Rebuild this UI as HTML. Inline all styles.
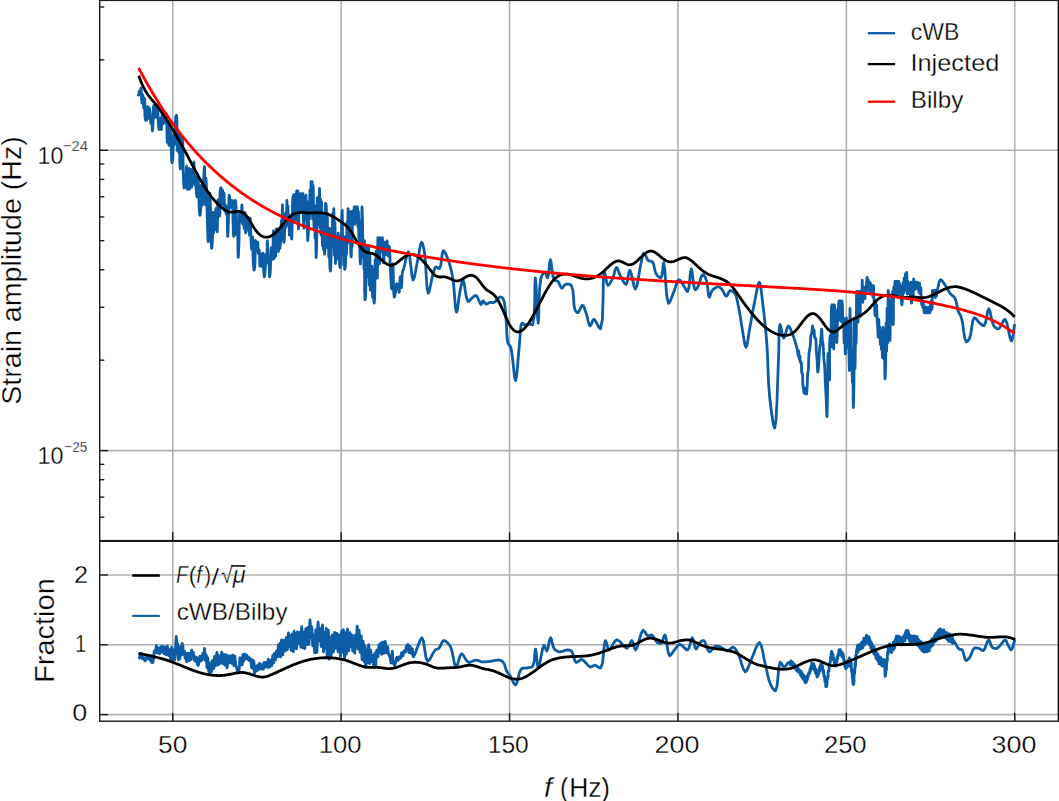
<!DOCTYPE html>
<html><head><meta charset="utf-8"><style>
html,body{margin:0;padding:0;background:#fff;}
body{width:1059px;height:801px;overflow:hidden;font-family:"Liberation Sans",sans-serif;}
svg{display:block;}
</style></head><body>
<svg width="1059" height="801" viewBox="0 0 1059 801"><rect width="1059" height="801" fill="#fff"/><defs><clipPath id="c1"><rect x="99.7" y="0.4" width="958.5999999999999" height="540.2"/></clipPath><clipPath id="c2"><rect x="99.7" y="541.3" width="958.5999999999999" height="179.9000000000001"/></clipPath></defs><g stroke="#b0b0b0" stroke-width="1.6"><line x1="172.75" y1="0.4" x2="172.75" y2="540.6"/><line x1="172.75" y1="541.3" x2="172.75" y2="721.2"/><line x1="341.15" y1="0.4" x2="341.15" y2="540.6"/><line x1="341.15" y1="541.3" x2="341.15" y2="721.2"/><line x1="509.55" y1="0.4" x2="509.55" y2="540.6"/><line x1="509.55" y1="541.3" x2="509.55" y2="721.2"/><line x1="677.95" y1="0.4" x2="677.95" y2="540.6"/><line x1="677.95" y1="541.3" x2="677.95" y2="721.2"/><line x1="846.35" y1="0.4" x2="846.35" y2="540.6"/><line x1="846.35" y1="541.3" x2="846.35" y2="721.2"/><line x1="1014.75" y1="0.4" x2="1014.75" y2="540.6"/><line x1="1014.75" y1="541.3" x2="1014.75" y2="721.2"/><line x1="99.7" y1="150.3" x2="1058.3" y2="150.3"/><line x1="99.7" y1="450.6" x2="1058.3" y2="450.6"/><line x1="99.7" y1="714.60" x2="1058.3" y2="714.60"/><line x1="99.7" y1="644.80" x2="1058.3" y2="644.80"/><line x1="99.7" y1="575.00" x2="1058.3" y2="575.00"/></g><g clip-path="url(#c1)" fill="none" stroke-width="2.8" stroke-linejoin="round" stroke-linecap="butt"><path d="M138.00,96.30 L138.38,95.25 L138.75,94.14 L139.01,92.88 L139.25,91.54 L139.50,90.91 L139.88,92.16 L140.25,93.40 L140.47,92.54 L140.66,90.69 L140.83,88.84 L141.00,88.00 L141.25,90.31 L141.46,95.36 L141.67,100.42 L141.92,102.73 L142.14,101.50 L142.38,98.78 L142.62,96.07 L142.84,94.84 L143.09,96.92 L143.31,101.48 L143.52,106.05 L143.76,108.12 L143.99,106.62 L144.23,103.32 L144.46,100.02 L144.68,98.52 L144.82,101.81 L144.82,109.11 L144.98,116.59 L145.60,120.40 L146.50,120.17 L147.01,117.58 L147.20,113.00 L147.26,108.65 L147.40,106.71 L147.62,108.52 L147.84,112.52 L148.07,116.52 L148.30,118.34 L148.51,116.68 L148.72,113.02 L148.94,109.37 L149.20,107.70 L149.42,108.22 L149.65,109.53 L149.89,111.23 L150.10,112.90 L150.33,115.72 L150.51,119.13 L150.68,122.02 L150.87,123.23 L151.06,122.08 L151.26,119.55 L151.45,117.01 L151.63,115.86 L151.85,118.23 L152.03,123.43 L152.20,128.63 L152.40,131.00 L152.58,130.08 L152.77,127.79 L152.96,124.86 L153.13,121.99 L153.23,117.53 L153.23,112.24 L153.37,107.65 L153.87,105.30 L154.60,105.30 L155.04,107.50 L155.21,111.58 L155.26,115.50 L155.38,117.26 L155.57,115.40 L155.76,111.32 L155.95,107.23 L156.15,105.37 L156.34,107.01 L156.53,110.62 L156.73,114.22 L156.92,115.86 L157.12,114.45 L157.32,111.33 L157.52,108.21 L157.70,106.80 L157.89,109.22 L158.02,114.84 L158.18,121.18 L158.45,125.78 L158.69,127.51 L158.95,128.92 L159.20,129.50 L159.40,128.95 L159.58,127.60 L159.76,125.92 L159.93,124.36 L160.13,122.55 L160.31,120.50 L160.50,118.81 L160.67,118.12 L160.87,119.90 L161.06,123.81 L161.23,127.72 L161.40,129.50 L161.60,126.67 L161.79,120.45 L161.98,114.23 L162.20,111.40 L162.41,113.36 L162.63,117.66 L162.86,121.97 L163.10,123.93 L163.32,122.38 L163.54,118.97 L163.77,115.56 L164.00,114.00 L164.22,115.31 L164.45,118.19 L164.68,121.07 L164.90,122.38 L165.13,120.88 L165.35,117.58 L165.57,114.29 L165.80,112.79 L166.03,113.53 L166.27,115.39 L166.50,117.86 L166.70,120.40 L166.90,126.08 L166.99,133.32 L167.12,139.56 L167.45,142.25 L167.82,141.13 L168.20,140.00 L168.43,140.86 L168.63,142.72 L168.80,144.57 L168.97,145.40 L169.21,142.09 L169.38,134.81 L169.53,127.55 L169.73,124.24 L169.91,125.08 L170.11,127.17 L170.32,129.86 L170.50,132.50 L170.71,136.08 L170.90,140.05 L171.07,144.16 L171.25,148.15 L171.42,152.50 L171.57,157.27 L171.75,161.11 L172.00,162.70 L172.18,162.33 L172.38,161.37 L172.59,160.04 L172.77,158.57 L173.05,152.91 L173.21,144.99 L173.34,137.93 L173.53,134.88 L173.70,136.40 L173.89,139.74 L174.09,143.08 L174.30,144.60 L174.48,144.10 L174.67,142.80 L174.86,141.04 L175.03,139.17 L175.23,134.14 L175.31,127.58 L175.43,121.30 L175.77,117.10 L176.13,115.69 L176.50,115.10 L176.93,120.70 L177.08,132.88 L177.12,145.04 L177.25,150.56 L177.43,147.74 L177.61,141.53 L177.81,135.32 L178.00,132.50 L178.19,135.60 L178.38,142.43 L178.57,149.25 L178.77,152.35 L178.96,149.76 L179.16,144.05 L179.35,138.34 L179.53,135.74 L179.65,140.88 L179.68,152.20 L179.82,163.55 L180.30,168.80 L181.07,167.22 L181.49,160.98 L181.58,150.85 L181.61,141.41 L181.83,137.23 L182.01,137.60 L182.22,138.60 L182.42,140.01 L182.60,141.60 L182.90,148.07 L183.03,157.20 L183.12,166.83 L183.30,174.80 L183.49,179.13 L183.70,183.40 L183.93,186.67 L184.15,187.97 L184.36,185.94 L184.57,181.48 L184.79,177.03 L185.00,175.00 L185.19,176.43 L185.38,179.59 L185.56,182.74 L185.73,184.17 L185.94,181.36 L186.13,175.19 L186.30,169.02 L186.47,166.22 L186.52,169.64 L186.48,177.27 L186.61,185.11 L187.20,189.20 L187.96,189.20 L188.53,185.47 L188.68,178.34 L188.66,171.42 L188.72,168.31 L188.91,171.57 L189.10,178.75 L189.29,185.94 L189.48,189.20 L189.66,186.06 L189.84,179.14 L190.03,172.23 L190.24,169.08 L190.41,170.26 L190.60,173.09 L190.80,176.52 L191.00,179.50 L191.19,181.86 L191.38,184.36 L191.57,186.35 L191.75,187.16 L191.96,184.39 L192.13,178.31 L192.30,172.23 L192.50,169.46 L192.68,170.91 L192.87,174.10 L193.07,177.29 L193.25,178.74 L193.46,176.16 L193.65,170.47 L193.83,164.78 L194.00,162.20 L194.18,165.69 L194.34,173.38 L194.51,181.07 L194.73,184.57 L194.90,183.25 L195.10,180.35 L195.29,177.44 L195.47,176.12 L195.66,177.75 L195.82,181.63 L195.99,186.22 L196.20,190.00 L196.38,192.20 L196.58,194.42 L196.79,196.14 L196.97,196.82 L197.18,193.90 L197.34,187.49 L197.50,181.07 L197.73,178.15 L197.91,178.69 L198.12,180.09 L198.32,181.98 L198.50,184.00 L198.74,189.24 L198.89,196.01 L199.03,202.84 L199.25,208.28 L199.42,210.69 L199.61,213.00 L199.81,214.72 L200.00,215.40 L200.19,214.78 L200.38,213.19 L200.57,211.07 L200.73,208.83 L200.98,202.81 L201.15,194.90 L201.30,188.00 L201.47,185.06 L201.61,188.16 L201.73,195.01 L201.90,201.86 L202.20,205.00 L202.45,204.53 L202.72,203.34 L202.97,201.80 L203.28,196.98 L203.44,190.15 L203.55,182.93 L203.73,176.93 L203.92,173.58 L204.12,170.25 L204.32,167.71 L204.50,166.70 L204.75,172.63 L204.92,185.67 L205.06,198.70 L205.23,204.63 L205.40,200.49 L205.58,191.39 L205.77,182.28 L205.97,178.14 L206.14,180.00 L206.33,184.58 L206.52,190.41 L206.70,196.00 L206.90,202.81 L207.07,210.26 L207.25,217.68 L207.45,224.44 L207.62,229.84 L207.80,235.43 L207.99,239.82 L208.20,241.60 L208.39,240.63 L208.59,238.14 L208.79,234.80 L208.97,231.28 L209.21,221.67 L209.38,209.01 L209.53,197.98 L209.73,193.26 L209.92,194.89 L210.12,198.96 L210.32,204.21 L210.50,209.40 L210.67,217.35 L210.77,226.57 L210.89,235.36 L211.10,242.01 L211.23,244.26 L211.38,246.31 L211.54,247.82 L211.70,248.40 L211.86,247.86 L212.02,246.46 L212.18,244.55 L212.32,242.46 L212.55,235.14 L212.70,225.07 L212.81,216.15 L212.95,212.31 L213.08,215.53 L213.21,222.63 L213.36,229.74 L213.57,232.97 L213.70,232.11 L213.83,230.20 L213.99,228.29 L214.20,227.40 L214.58,228.58 L214.97,229.75 L215.24,226.95 L215.30,220.68 L215.39,213.89 L215.73,209.53 L216.50,208.00 L216.92,211.81 L217.08,220.00 L217.14,228.17 L217.23,231.87 L217.42,226.87 L217.58,215.87 L217.76,204.86 L217.97,199.86 L218.06,202.01 L218.12,206.89 L218.29,212.14 L218.70,215.40 L219.47,216.29 L219.93,212.59 L219.98,204.52 L219.96,195.76 L220.23,190.02 L220.62,188.39 L221.00,187.70 L221.31,190.37 L221.49,196.16 L221.60,201.93 L221.75,204.56 L221.93,202.30 L222.11,197.34 L222.30,192.37 L222.50,190.11 L222.68,191.87 L222.86,195.72 L223.05,199.58 L223.25,201.33 L223.44,200.03 L223.63,197.17 L223.83,194.30 L224.00,193.00 L224.19,195.77 L224.34,201.85 L224.49,207.93 L224.70,210.70 L224.86,209.82 L225.04,207.85 L225.23,205.89 L225.40,205.00 L225.60,206.46 L225.79,209.67 L225.97,212.88 L226.17,214.33 L226.36,213.22 L226.56,210.76 L226.76,208.29 L226.93,207.18 L227.19,211.75 L227.36,221.80 L227.51,231.84 L227.70,236.40 L227.88,234.65 L228.08,230.34 L228.28,224.89 L228.47,219.71 L228.65,212.77 L228.80,204.70 L228.98,198.02 L229.23,195.22 L229.41,195.97 L229.60,197.80 L229.80,200.03 L230.00,202.00 L230.18,203.73 L230.37,205.60 L230.55,207.10 L230.73,207.71 L230.87,206.65 L230.96,204.27 L231.12,201.79 L231.47,200.40 L232.20,200.40 L232.73,202.90 L232.88,207.86 L232.88,213.77 L232.95,219.13 L233.11,224.30 L233.26,229.96 L233.44,234.52 L233.70,236.40 L233.88,236.00 L234.08,234.94 L234.29,233.45 L234.47,231.78 L234.74,224.44 L234.85,213.94 L234.96,204.51 L235.23,200.40 L235.41,200.80 L235.62,201.86 L235.82,203.35 L236.00,205.00 L236.30,212.05 L236.45,222.08 L236.56,231.05 L236.73,234.95 L236.91,232.76 L237.10,227.96 L237.29,223.15 L237.47,220.97 L237.68,226.66 L237.84,239.18 L237.99,251.71 L238.20,257.40 L238.37,255.94 L238.57,252.28 L238.76,247.54 L238.93,242.83 L239.12,234.38 L239.25,224.04 L239.41,215.28 L239.67,211.58 L239.82,212.38 L239.99,214.29 L240.18,216.54 L240.40,218.40 L240.65,219.87 L240.91,221.21 L241.15,221.79 L241.43,219.15 L241.61,213.38 L241.74,207.62 L241.90,205.00 L242.09,207.97 L242.26,214.50 L242.45,221.03 L242.65,224.00 L242.83,222.19 L243.02,218.20 L243.22,214.21 L243.40,212.40 L243.60,214.89 L243.78,220.37 L243.97,225.85 L244.15,228.34 L244.34,225.85 L244.53,220.37 L244.72,214.89 L244.90,212.40 L245.07,215.60 L245.22,222.64 L245.40,229.68 L245.65,232.89 L245.81,232.04 L245.99,230.16 L246.18,228.27 L246.40,227.40 L246.79,228.74 L247.17,230.07 L247.42,228.04 L247.56,223.60 L247.69,219.17 L247.93,217.14 L248.32,218.06 L248.70,220.00 L248.99,223.63 L249.17,228.65 L249.31,233.11 L249.47,235.03 L249.66,232.41 L249.86,226.63 L250.05,220.85 L250.23,218.23 L250.42,220.73 L250.60,226.66 L250.78,233.66 L251.00,239.40 L251.18,242.65 L251.37,245.92 L251.56,248.44 L251.75,249.45 L251.95,247.49 L252.14,243.16 L252.33,238.83 L252.50,236.87 L252.70,239.90 L252.85,247.03 L253.02,255.29 L253.25,261.74 L253.41,264.53 L253.57,267.23 L253.77,269.28 L254.00,270.10 L254.24,269.67 L254.50,268.57 L254.73,267.13 L255.04,261.06 L255.15,252.05 L255.24,243.87 L255.47,240.29 L255.63,240.83 L255.82,242.18 L256.01,243.86 L256.20,245.40 L256.39,247.12 L256.59,249.06 L256.77,250.64 L256.95,251.29 L257.15,249.87 L257.34,246.74 L257.52,243.62 L257.70,242.20 L257.88,243.99 L258.04,247.94 L258.22,251.89 L258.45,253.70 L258.69,252.71 L258.96,250.88 L259.20,249.90 L259.46,252.45 L259.63,258.04 L259.77,263.62 L259.93,266.15 L260.11,264.28 L260.28,260.15 L260.47,256.01 L260.67,254.13 L260.83,255.03 L261.01,257.17 L261.19,259.74 L261.40,261.90 L261.58,263.35 L261.78,264.85 L261.97,266.02 L262.15,266.48 L262.39,264.40 L262.57,259.84 L262.73,255.28 L262.90,253.21 L263.08,255.27 L263.25,260.13 L263.43,265.81 L263.65,270.32 L263.82,272.49 L264.01,274.63 L264.20,276.25 L264.40,276.90 L264.59,276.35 L264.79,274.94 L264.98,273.09 L265.15,271.17 L265.38,266.75 L265.55,261.09 L265.71,256.22 L265.90,254.14 L266.08,255.56 L266.28,258.69 L266.47,261.81 L266.65,263.23 L266.87,259.74 L267.06,252.06 L267.23,244.39 L267.40,240.90 L267.56,244.31 L267.71,251.81 L267.89,259.31 L268.13,262.73 L268.31,261.79 L268.50,259.70 L268.69,257.61 L268.87,256.66 L269.08,259.83 L269.23,266.78 L269.38,273.73 L269.60,276.90 L269.78,276.33 L269.98,274.86 L270.19,272.88 L270.37,270.79 L270.59,264.97 L270.71,257.28 L270.85,250.55 L271.13,247.65 L271.38,248.29 L271.65,249.76 L271.90,251.40 L272.12,253.54 L272.32,256.17 L272.49,258.39 L272.65,259.32 L272.90,254.89 L273.08,245.15 L273.23,235.41 L273.40,230.98 L273.58,235.28 L273.75,244.74 L273.94,254.20 L274.15,258.50 L274.32,256.22 L274.51,251.20 L274.71,246.18 L274.90,243.90 L275.08,245.83 L275.28,250.08 L275.46,254.33 L275.63,256.26 L275.70,252.16 L275.62,243.06 L275.74,233.72 L276.37,228.90 L277.10,228.90 L277.64,232.89 L277.71,240.54 L277.58,247.98 L277.56,251.33 L277.67,248.50 L277.79,242.27 L277.90,236.04 L278.02,233.21 L278.13,236.05 L278.25,242.30 L278.36,248.56 L278.48,251.40 L278.59,249.02 L278.70,243.79 L278.82,238.56 L278.94,236.18 L278.97,238.00 L278.96,242.03 L279.05,246.20 L279.40,248.40 L279.90,248.40 L280.35,244.90 L280.43,238.08 L280.37,231.43 L280.40,228.44 L280.52,230.53 L280.65,235.13 L280.78,239.72 L280.90,241.81 L281.03,238.52 L281.15,231.28 L281.27,224.04 L281.40,220.75 L281.52,223.31 L281.65,228.95 L281.78,234.58 L281.90,237.15 L282.04,232.12 L282.16,221.07 L282.27,210.02 L282.40,205.00 L282.51,208.74 L282.62,216.96 L282.75,225.18 L282.90,228.91 L283.02,227.53 L283.15,224.48 L283.28,221.44 L283.40,220.05 L283.53,223.54 L283.61,231.22 L283.72,238.90 L283.90,242.40 L284.02,242.04 L284.15,241.10 L284.28,239.80 L284.40,238.35 L284.59,232.53 L284.70,224.33 L284.79,217.01 L284.90,213.84 L285.02,216.07 L285.14,220.97 L285.27,225.88 L285.40,228.11 L285.53,225.69 L285.65,220.37 L285.77,215.04 L285.90,212.63 L286.02,214.66 L286.15,219.15 L286.28,223.63 L286.40,225.67 L286.54,221.72 L286.66,213.03 L286.78,204.35 L286.90,200.40 L287.02,203.81 L287.14,211.32 L287.27,218.83 L287.40,222.24 L287.52,219.72 L287.65,214.17 L287.78,208.63 L287.90,206.11 L288.02,209.15 L288.14,215.84 L288.26,222.52 L288.40,225.56 L288.52,223.84 L288.65,220.04 L288.78,216.24 L288.90,214.51 L289.03,217.75 L289.15,224.86 L289.26,231.97 L289.40,235.20 L289.50,233.51 L289.61,229.81 L289.73,226.10 L289.90,224.40 L290.13,225.61 L290.35,226.82 L290.51,225.19 L290.62,221.61 L290.71,218.03 L290.80,216.40 L290.91,218.08 L291.02,222.07 L291.13,226.83 L291.25,230.83 L291.36,233.42 L291.47,236.08 L291.59,238.16 L291.70,239.00 L291.85,237.04 L291.99,232.24 L292.13,226.24 L292.27,220.66 L292.38,214.68 L292.46,208.17 L292.59,202.26 L292.83,198.07 L293.12,196.10 L293.40,195.20 L293.65,199.06 L293.78,207.53 L293.85,215.98 L293.95,219.82 L294.09,215.85 L294.22,207.12 L294.36,198.39 L294.50,194.42 L294.63,197.59 L294.77,204.57 L294.91,211.54 L295.05,214.71 L295.18,212.31 L295.33,207.02 L295.47,201.73 L295.60,199.33 L295.75,202.53 L295.89,209.59 L296.02,216.64 L296.15,219.84 L296.29,215.34 L296.43,205.42 L296.56,195.51 L296.70,191.00 L296.84,194.52 L296.98,202.27 L297.12,210.02 L297.27,213.54 L297.41,210.02 L297.56,202.27 L297.70,194.52 L297.83,191.00 L297.98,196.92 L298.11,209.95 L298.24,222.98 L298.40,228.90 L298.52,227.21 L298.65,223.11 L298.79,218.02 L298.92,213.37 L299.05,208.48 L299.18,203.03 L299.31,198.60 L299.44,196.77 L299.57,199.24 L299.70,204.66 L299.83,210.08 L299.96,212.55 L300.00,209.82 L299.97,203.71 L300.07,197.33 L300.48,193.80 L301.00,193.50 L301.34,195.56 L301.44,199.73 L301.44,203.83 L301.50,205.68 L301.63,203.96 L301.75,200.16 L301.88,196.36 L302.00,194.64 L302.14,197.44 L302.26,203.62 L302.38,209.80 L302.50,212.61 L302.63,209.63 L302.76,203.08 L302.88,196.53 L303.00,193.55 L303.12,196.88 L303.22,204.68 L303.34,213.65 L303.50,220.50 L303.62,223.11 L303.75,225.60 L303.88,227.46 L304.00,228.19 L304.14,225.48 L304.25,219.50 L304.36,213.53 L304.50,210.81 L304.62,211.95 L304.75,214.47 L304.88,216.98 L305.00,218.12 L305.14,216.11 L305.24,211.37 L305.35,205.84 L305.50,201.45 L305.62,199.38 L305.75,197.35 L305.88,195.81 L306.00,195.20 L306.18,199.02 L306.31,207.43 L306.43,215.83 L306.57,219.65 L306.71,216.82 L306.85,210.61 L307.00,204.40 L307.13,201.57 L307.27,207.69 L307.36,221.13 L307.48,234.58 L307.70,240.70 L307.83,240.11 L307.98,238.60 L308.13,236.53 L308.27,234.29 L308.47,226.84 L308.59,216.68 L308.69,207.71 L308.83,203.85 L308.97,206.23 L309.12,211.48 L309.26,216.73 L309.40,219.12 L309.56,214.58 L309.69,204.59 L309.82,194.61 L309.97,190.07 L310.10,193.16 L310.25,199.96 L310.40,206.76 L310.53,209.85 L310.69,205.46 L310.83,195.78 L310.97,186.10 L311.10,181.70 L311.23,186.36 L311.36,196.60 L311.48,206.85 L311.60,211.51 L311.73,206.85 L311.85,196.60 L311.98,186.36 L312.10,181.70 L312.23,187.53 L312.35,200.35 L312.47,213.18 L312.60,219.01 L312.72,213.75 L312.84,202.20 L312.97,190.64 L313.10,185.39 L313.22,187.96 L313.34,194.21 L313.47,201.87 L313.60,208.70 L313.72,215.00 L313.85,221.87 L313.97,227.39 L314.10,229.65 L314.23,226.34 L314.35,219.06 L314.48,211.78 L314.60,208.47 L314.73,213.12 L314.86,223.34 L314.98,233.56 L315.10,238.20 L315.23,233.19 L315.36,222.17 L315.48,211.15 L315.60,206.14 L315.72,214.18 L315.81,231.87 L315.92,249.56 L316.10,257.60 L316.23,256.33 L316.38,253.11 L316.53,248.80 L316.67,244.28 L316.85,232.49 L316.98,217.07 L317.09,203.67 L317.23,197.94 L317.37,201.89 L317.51,210.56 L317.66,219.24 L317.80,223.18 L317.94,219.10 L318.08,210.11 L318.23,201.13 L318.37,197.04 L318.51,201.37 L318.66,210.88 L318.80,220.40 L318.93,224.72 L319.08,219.06 L319.23,206.61 L319.37,194.16 L319.50,188.50 L319.63,194.66 L319.75,208.23 L319.87,221.79 L320.00,227.95 L320.12,223.44 L320.25,213.52 L320.38,203.59 L320.50,199.08 L320.63,204.70 L320.75,217.05 L320.88,229.39 L321.00,235.01 L321.12,229.79 L321.24,218.30 L321.37,206.82 L321.50,201.60 L321.62,204.26 L321.74,210.69 L321.87,218.55 L322.00,225.50 L322.12,231.59 L322.25,238.16 L322.38,243.43 L322.50,245.58 L322.63,240.98 L322.76,230.86 L322.88,220.74 L323.00,216.14 L323.13,221.34 L323.25,232.79 L323.37,244.24 L323.50,249.45 L323.62,244.85 L323.75,234.74 L323.88,224.63 L324.00,220.03 L324.11,225.37 L324.20,237.11 L324.32,248.86 L324.50,254.20 L324.63,253.41 L324.78,251.39 L324.93,248.62 L325.07,245.61 L325.20,235.30 L325.21,221.18 L325.29,208.68 L325.63,203.26 L325.92,203.85 L326.20,205.30 L326.54,213.00 L326.64,225.42 L326.66,236.95 L326.72,242.04 L326.85,237.49 L326.99,227.48 L327.12,217.46 L327.25,212.91 L327.38,218.44 L327.50,230.59 L327.62,242.74 L327.77,248.27 L327.90,245.77 L328.03,240.28 L328.17,234.79 L328.30,232.30 L328.44,236.21 L328.57,244.81 L328.70,253.41 L328.83,257.32 L328.96,252.78 L329.09,242.80 L329.22,232.82 L329.35,228.28 L329.45,233.46 L329.51,245.32 L329.63,258.35 L329.88,267.04 L330.04,268.96 L330.23,270.42 L330.40,271.00 L330.57,270.12 L330.71,267.91 L330.84,264.94 L330.97,261.81 L331.15,253.44 L331.28,242.45 L331.39,232.87 L331.53,228.78 L331.67,231.66 L331.82,237.99 L331.96,244.33 L332.10,247.20 L332.25,241.95 L332.38,230.39 L332.52,218.83 L332.67,213.57 L332.80,216.56 L332.95,223.14 L333.09,229.73 L333.23,232.72 L333.38,228.97 L333.53,220.71 L333.67,212.45 L333.80,208.70 L333.96,215.96 L334.09,231.92 L334.22,247.88 L334.37,255.13 L334.50,250.01 L334.65,238.74 L334.79,227.48 L334.93,222.36 L335.08,228.78 L335.21,242.92 L335.35,257.06 L335.50,263.49 L335.63,259.77 L335.77,251.60 L335.92,243.42 L336.07,239.71 L336.20,242.67 L336.32,249.19 L336.46,255.72 L336.63,258.68 L336.77,257.45 L336.91,254.74 L337.06,252.03 L337.20,250.80 L337.33,252.11 L337.47,255.00 L337.59,257.89 L337.70,259.20 L337.86,255.11 L337.98,246.14 L338.08,237.17 L338.20,233.09 L338.32,236.39 L338.44,243.66 L338.57,250.93 L338.70,254.23 L338.82,251.44 L338.95,245.30 L339.08,239.16 L339.20,236.37 L339.28,240.48 L339.30,249.78 L339.40,259.79 L339.70,266.00 L340.20,267.63 L340.49,263.17 L340.59,253.42 L340.62,243.68 L340.70,239.26 L340.82,241.59 L340.95,246.71 L341.08,251.84 L341.20,254.17 L341.33,250.17 L341.44,240.77 L341.55,229.86 L341.70,221.36 L341.82,217.69 L341.95,214.14 L342.08,211.46 L342.20,210.40 L342.36,216.92 L342.47,231.26 L342.58,245.61 L342.72,252.13 L342.84,249.67 L342.98,244.27 L343.11,238.86 L343.24,236.41 L343.38,240.90 L343.51,250.78 L343.63,260.66 L343.76,265.15 L343.89,261.61 L344.02,253.81 L344.15,246.01 L344.28,242.47 L344.37,246.67 L344.43,255.92 L344.54,265.17 L344.80,269.40 L345.07,268.61 L345.35,266.79 L345.62,260.14 L345.74,249.94 L345.80,240.60 L345.90,236.51 L346.03,239.33 L346.18,245.54 L346.32,251.74 L346.45,254.56 L346.60,249.47 L346.73,238.27 L346.86,227.07 L347.00,221.98 L347.13,225.35 L347.28,232.75 L347.42,240.15 L347.55,243.52 L347.70,238.08 L347.83,226.11 L347.96,214.14 L348.10,208.70 L348.22,212.08 L348.35,219.51 L348.48,226.94 L348.62,230.32 L348.75,227.64 L348.88,221.76 L349.02,215.88 L349.14,213.21 L349.28,217.35 L349.41,226.47 L349.53,235.59 L349.66,239.73 L349.79,235.35 L349.93,225.69 L350.06,216.04 L350.18,211.65 L350.29,216.73 L350.38,228.47 L350.50,241.58 L350.70,250.80 L350.82,252.96 L350.95,254.90 L351.08,256.30 L351.20,256.83 L351.38,252.32 L351.49,242.40 L351.58,232.48 L351.70,227.98 L351.82,230.88 L351.95,237.28 L352.08,243.68 L352.20,246.59 L352.32,241.02 L352.40,228.76 L352.51,216.51 L352.70,210.93 L352.81,211.65 L352.92,213.36 L353.05,215.40 L353.20,217.10 L353.37,218.58 L353.56,219.94 L353.72,220.54 L353.91,218.42 L354.03,213.76 L354.14,209.11 L354.25,207.00 L354.39,209.70 L354.52,215.65 L354.65,221.60 L354.77,224.31 L354.90,221.60 L355.03,215.65 L355.16,209.70 L355.30,207.00 L355.43,209.11 L355.56,213.74 L355.69,218.37 L355.82,220.48 L355.96,218.37 L356.09,213.74 L356.22,209.11 L356.35,207.00 L356.48,209.24 L356.61,214.17 L356.74,219.11 L356.88,221.35 L357.01,219.11 L357.14,214.17 L357.28,209.24 L357.40,207.00 L357.53,210.12 L357.65,216.99 L357.77,223.86 L357.90,226.98 L358.02,224.55 L358.15,219.22 L358.28,213.89 L358.40,211.47 L358.54,215.80 L358.65,225.34 L358.77,234.88 L358.90,239.21 L359.02,236.33 L359.15,229.98 L359.28,223.64 L359.40,220.75 L359.52,225.18 L359.61,235.49 L359.72,247.22 L359.90,255.90 L360.02,258.68 L360.16,261.26 L360.30,263.17 L360.42,263.91 L360.61,257.86 L360.73,244.56 L360.83,231.26 L360.94,225.21 L361.07,229.98 L361.20,240.47 L361.34,250.96 L361.46,255.72 L361.59,248.11 L361.70,231.36 L361.82,214.61 L361.98,207.00 L362.10,208.61 L362.24,212.62 L362.38,217.82 L362.50,223.00 L362.64,232.29 L362.75,243.67 L362.87,253.30 L363.00,257.36 L363.12,254.69 L363.25,248.81 L363.38,242.93 L363.50,240.26 L363.64,244.76 L363.76,254.66 L363.88,264.56 L364.00,269.06 L364.13,264.67 L364.26,255.02 L364.38,245.37 L364.50,240.99 L364.57,250.15 L364.57,270.32 L364.66,290.50 L365.00,299.70 L365.25,298.98 L365.50,297.26 L365.79,288.66 L365.88,274.93 L365.91,262.20 L366.00,256.59 L366.12,259.48 L366.25,265.83 L366.38,272.18 L366.50,275.06 L366.60,270.76 L366.67,261.28 L366.78,251.79 L367.00,247.47 L367.16,247.96 L367.34,249.20 L367.50,250.80 L367.73,256.81 L367.86,265.57 L367.96,273.47 L368.07,276.91 L368.21,272.02 L368.36,261.28 L368.50,250.53 L368.63,245.64 L368.78,251.78 L368.92,265.28 L369.05,278.78 L369.20,284.91 L369.34,280.17 L369.48,269.75 L369.63,259.33 L369.77,254.59 L369.90,260.14 L370.03,272.35 L370.16,284.56 L370.33,290.11 L370.46,287.92 L370.61,283.11 L370.75,278.29 L370.90,276.10 L371.04,278.09 L371.18,282.45 L371.32,286.82 L371.45,288.81 L371.60,285.26 L371.74,277.46 L371.87,269.66 L372.00,266.11 L372.14,270.98 L372.28,281.69 L372.41,292.40 L372.55,297.27 L372.69,292.91 L372.82,283.34 L372.96,273.76 L373.10,269.41 L373.21,273.12 L373.31,281.71 L373.43,291.35 L373.65,298.21 L373.78,299.95 L373.92,301.53 L374.07,302.66 L374.20,303.10 L374.35,302.29 L374.49,300.22 L374.61,297.44 L374.72,294.47 L374.89,285.81 L375.01,274.26 L375.11,264.16 L375.24,259.83 L375.36,262.75 L375.50,269.18 L375.63,275.61 L375.76,278.54 L375.86,274.22 L375.94,264.74 L376.05,255.25 L376.28,250.92 L376.45,251.41 L376.63,252.63 L376.80,254.20 L377.02,259.76 L377.15,267.80 L377.24,275.04 L377.33,278.18 L377.48,271.83 L377.60,257.89 L377.73,243.94 L377.87,237.60 L377.99,241.43 L378.13,249.86 L378.26,258.30 L378.40,262.13 L378.53,258.38 L378.67,250.12 L378.80,241.87 L378.93,238.12 L379.07,242.14 L379.20,250.98 L379.33,259.82 L379.47,263.84 L379.57,259.74 L379.65,250.73 L379.78,241.71 L380.00,237.60 L380.25,239.81 L380.56,244.69 L380.88,249.58 L381.20,251.79 L381.51,249.58 L381.82,244.70 L382.12,239.82 L382.40,237.60 L382.73,241.52 L383.02,250.12 L383.30,258.73 L383.60,262.64 L383.89,259.46 L384.18,252.47 L384.48,245.48 L384.80,242.30 L385.07,244.23 L385.35,248.47 L385.64,252.72 L385.92,254.65 L386.21,252.51 L386.49,247.81 L386.76,243.11 L387.04,240.97 L387.32,243.31 L387.58,248.44 L387.86,253.59 L388.16,255.93 L388.43,254.43 L388.73,251.13 L389.02,247.84 L389.28,246.34 L389.60,248.83 L389.87,254.85 L390.12,262.22 L390.40,268.80 L390.71,274.86 L391.03,281.47 L391.35,286.78 L391.67,288.96 L392.00,285.03 L392.32,276.38 L392.63,267.73 L392.93,263.81 L393.19,268.99 L393.38,280.41 L393.67,291.85 L394.20,297.10 L394.49,296.67 L394.83,295.57 L395.16,294.12 L395.47,292.69 L395.79,290.25 L396.04,287.28 L396.33,284.75 L396.73,283.62 L397.37,284.32 L398.00,285.80 L398.37,287.48 L398.66,289.65 L398.90,291.52 L399.14,292.32 L399.47,289.85 L399.74,284.43 L400.00,279.02 L400.28,276.56 L400.56,278.28 L400.85,282.07 L401.14,285.86 L401.42,287.59 L401.67,285.47 L401.86,280.61 L402.12,275.17 L402.56,271.35 L403.08,270.07 L403.70,268.80 L404.71,264.81 L405.94,259.09 L407.23,253.98 L408.40,251.80 L409.66,256.24 L410.79,265.92 L411.90,275.59 L413.10,280.00 L414.25,277.71 L415.45,272.13 L416.65,265.31 L417.80,259.30 L418.78,254.14 L419.73,248.59 L420.67,244.14 L421.60,242.30 L422.32,243.16 L423.04,245.41 L423.74,248.48 L424.40,251.80 L425.45,262.02 L426.24,275.83 L427.05,288.01 L428.20,293.30 L429.26,291.07 L430.46,285.70 L431.70,279.41 L432.90,274.40 L433.57,272.00 L434.19,269.71 L434.89,267.89 L435.80,266.90 L436.66,267.05 L437.64,267.74 L438.63,268.41 L439.50,268.50 L440.77,265.30 L441.55,259.33 L442.27,253.52 L443.30,250.80 L444.39,251.55 L445.62,253.67 L446.86,256.47 L448.00,259.30 L449.39,263.32 L450.64,267.88 L451.77,272.88 L452.80,278.20 L453.91,287.57 L454.78,298.80 L455.57,308.22 L456.50,312.20 L457.39,309.50 L458.32,303.07 L459.29,295.54 L460.30,289.50 L460.97,286.40 L461.66,283.35 L462.37,281.01 L463.10,280.10 L464.16,283.34 L465.22,290.47 L466.45,297.75 L468.00,301.40 L468.92,301.17 L469.92,300.23 L470.96,299.01 L472.00,298.00 L473.00,297.14 L474.02,296.22 L475.03,295.54 L476.00,295.40 L477.37,297.00 L478.70,300.07 L479.93,303.05 L481.00,304.40 L481.70,303.55 L482.30,301.93 L483.00,301.00 L483.66,301.39 L484.38,302.37 L485.16,303.42 L486.00,304.00 L486.93,303.89 L487.93,303.39 L488.97,302.79 L490.00,302.40 L490.99,302.37 L491.98,302.50 L492.98,302.59 L494.00,302.40 L495.51,301.28 L497.08,299.52 L498.60,297.85 L500.00,297.00 L501.09,297.04 L502.10,297.50 L503.00,298.40 L504.26,301.84 L505.04,307.21 L505.57,313.40 L506.10,319.30 L506.52,325.53 L506.74,332.17 L507.09,338.28 L507.90,342.90 L508.55,344.26 L509.30,345.21 L510.08,346.17 L510.80,347.60 L512.24,355.28 L513.43,366.38 L514.48,376.37 L515.50,380.70 L516.53,376.70 L517.49,367.13 L518.40,355.63 L519.30,345.80 L519.87,338.85 L520.31,331.65 L520.95,325.85 L522.10,323.10 L522.92,323.39 L523.85,324.33 L524.90,325.00 L526.02,324.94 L527.29,324.56 L528.56,324.15 L529.70,324.00 L531.20,324.72 L532.50,325.00 L534.14,316.74 L534.73,300.62 L534.90,284.88 L535.30,277.80 L536.02,284.88 L536.75,300.45 L537.48,316.02 L538.20,323.10 L538.67,317.11 L538.98,303.35 L539.60,288.15 L541.00,277.80 L541.86,275.63 L542.86,273.79 L543.88,272.54 L544.80,272.10 L545.58,273.04 L546.31,275.02 L546.98,276.97 L547.60,277.80 L548.45,274.90 L549.10,268.73 L549.70,262.59 L550.40,259.80 L551.14,262.48 L551.86,268.62 L552.79,275.33 L554.20,279.70 L555.08,280.41 L556.07,280.72 L557.08,280.97 L558.00,281.50 L559.04,283.12 L559.95,285.31 L560.84,287.28 L561.80,288.20 L562.65,287.74 L563.51,286.55 L564.44,285.23 L565.50,284.40 L566.85,284.11 L568.39,284.09 L569.91,284.46 L571.20,285.30 L572.81,289.88 L573.49,297.25 L573.98,304.80 L575.00,309.90 L575.87,311.36 L576.82,312.38 L577.80,312.70 L578.95,311.44 L580.17,308.85 L581.38,306.31 L582.50,305.20 L583.53,306.13 L584.50,308.31 L585.41,311.07 L586.30,313.70 L587.27,317.13 L588.16,321.11 L589.08,324.44 L590.10,325.90 L590.96,324.93 L591.87,322.67 L592.83,320.38 L593.90,319.30 L595.47,320.82 L597.26,324.20 L599.01,327.50 L600.50,328.80 L602.38,319.53 L603.02,300.14 L603.35,280.90 L604.30,272.10 L605.08,274.08 L605.92,278.57 L606.87,283.12 L608.00,285.30 L609.12,284.60 L610.39,282.67 L611.66,280.18 L612.80,277.80 L613.84,274.87 L614.73,271.45 L615.58,268.61 L616.50,267.40 L617.39,268.32 L618.28,270.59 L619.23,273.40 L620.30,275.90 L621.66,278.49 L623.18,281.33 L624.70,283.59 L626.00,284.40 L627.16,282.06 L628.05,277.19 L628.86,272.38 L629.80,270.20 L631.13,273.15 L632.56,279.67 L634.02,286.17 L635.40,289.10 L636.92,285.87 L638.39,278.34 L639.79,269.59 L641.10,262.70 L641.78,259.56 L642.39,256.52 L643.06,254.20 L643.90,253.20 L644.91,254.14 L646.05,256.46 L647.29,259.05 L648.60,260.80 L649.87,261.19 L651.20,261.21 L652.40,261.70 L653.55,264.00 L654.32,267.49 L655.09,271.17 L656.20,274.00 L657.31,275.45 L658.59,276.77 L659.84,277.66 L660.90,277.80 L662.00,275.14 L662.65,269.98 L663.13,264.95 L663.70,262.70 L664.73,269.01 L665.69,282.86 L666.85,296.79 L668.50,303.30 L669.77,302.04 L671.21,298.75 L672.69,294.65 L674.10,291.00 L675.30,287.65 L676.44,284.00 L677.61,281.03 L678.90,279.70 L680.08,280.30 L681.34,281.96 L682.61,284.04 L683.80,285.90 L684.83,287.60 L685.82,289.50 L686.76,290.99 L687.60,291.50 L688.82,287.79 L689.70,280.04 L690.46,272.38 L691.30,268.90 L692.15,272.07 L692.96,279.08 L693.89,286.21 L695.10,289.70 L695.75,289.55 L696.46,288.88 L697.19,287.89 L697.90,286.80 L699.11,283.83 L700.29,279.80 L701.48,276.22 L702.70,274.60 L703.64,275.07 L704.63,276.41 L705.57,278.25 L706.40,280.20 L707.35,284.53 L707.97,290.15 L708.54,295.05 L709.30,297.20 L709.88,296.45 L710.46,294.59 L711.17,292.38 L712.10,290.60 L713.34,289.30 L714.83,288.10 L716.38,287.20 L717.80,286.80 L718.78,286.91 L719.71,287.32 L720.61,287.94 L721.50,288.70 L722.77,290.55 L723.98,293.09 L725.16,295.33 L726.30,296.30 L727.22,295.46 L728.07,293.59 L728.97,291.64 L730.00,290.60 L731.15,290.67 L732.43,291.25 L733.70,292.22 L734.80,293.40 L736.07,295.87 L736.99,299.14 L737.73,302.86 L738.50,306.70 L739.52,311.98 L740.45,317.78 L741.35,323.70 L742.30,329.30 L743.20,334.77 L744.13,340.62 L745.07,345.30 L746.00,347.20 L746.96,345.13 L747.91,340.03 L748.88,333.57 L749.90,327.40 L751.25,320.05 L752.66,312.04 L754.10,304.16 L755.50,297.20 L756.48,292.34 L757.45,287.41 L758.40,283.60 L759.30,282.10 L760.34,284.69 L761.31,291.02 L762.22,299.03 L763.10,306.70 L764.15,315.42 L765.15,324.68 L766.07,334.38 L766.90,344.40 L767.59,356.90 L768.05,370.19 L768.59,383.37 L769.50,395.50 L770.65,405.69 L772.06,416.31 L773.48,424.65 L774.70,428.00 L776.01,419.90 L777.00,400.75 L777.79,378.05 L778.50,359.30 L778.82,348.17 L778.97,336.88 L779.26,328.10 L780.00,324.50 L780.77,326.57 L781.70,331.24 L782.73,335.94 L783.80,338.10 L784.85,336.25 L785.95,332.11 L787.10,327.94 L788.30,326.00 L789.43,326.90 L790.62,329.21 L791.80,332.20 L792.90,335.10 L794.22,338.76 L795.50,342.86 L796.61,346.86 L797.40,350.20 L797.66,351.95 L797.81,353.67 L797.91,354.97 L798.03,355.49 L798.19,354.75 L798.36,353.13 L798.52,351.50 L798.67,350.77 L798.83,352.11 L798.97,355.05 L799.12,358.00 L799.30,359.34 L799.50,358.43 L799.73,356.72 L799.93,355.81 L800.07,356.84 L800.14,359.13 L800.28,361.47 L800.57,362.66 L801.20,362.30 L801.48,363.92 L801.50,367.22 L801.50,370.66 L801.75,372.71 L802.30,373.13 L802.62,375.12 L802.71,378.51 L802.73,382.17 L802.85,384.96 L803.02,386.09 L803.21,387.00 L803.40,388.00 L803.56,389.39 L803.72,391.02 L803.87,392.39 L804.02,392.96 L804.18,392.18 L804.33,390.45 L804.49,388.72 L804.64,387.94 L804.79,388.84 L804.94,390.82 L805.09,392.79 L805.26,393.70 L805.46,392.74 L805.67,390.96 L805.88,390.00 L806.04,390.63 L806.20,392.00 L806.35,393.38 L806.50,394.00 L806.67,393.39 L806.82,391.87 L806.97,389.89 L807.10,387.90 L807.25,384.49 L807.36,380.43 L807.49,376.53 L807.70,373.56 L807.89,372.48 L808.11,371.66 L808.30,370.57 L808.51,367.35 L808.63,363.04 L808.73,358.62 L808.90,355.08 L809.03,353.66 L809.18,352.45 L809.33,351.33 L809.50,350.20 L809.68,349.14 L809.88,348.12 L810.07,347.05 L810.25,345.83 L810.44,343.27 L810.56,340.20 L810.71,337.28 L811.00,335.18 L811.75,333.62 L812.01,331.77 L812.19,329.23 L812.33,326.97 L812.50,326.00 L812.67,326.92 L812.83,328.95 L813.01,330.99 L813.25,331.93 L813.63,330.99 L814.00,330.05 L814.20,331.13 L814.30,333.52 L814.43,336.08 L814.75,337.67 L815.50,338.10 L815.92,340.14 L816.08,343.62 L816.14,347.55 L816.27,350.94 L816.45,352.94 L816.65,354.75 L816.85,356.57 L817.03,358.60 L817.23,362.33 L817.40,366.79 L817.58,370.53 L817.80,372.10 L818.02,371.27 L818.27,369.18 L818.52,366.50 L818.75,363.87 L819.00,360.11 L819.20,355.83 L819.42,351.64 L819.70,348.16 L819.92,346.61 L820.17,345.33 L820.42,344.06 L820.65,342.56 L820.93,338.98 L821.17,334.51 L821.39,330.71 L821.60,329.10 L821.79,330.37 L821.96,333.39 L822.14,336.95 L822.35,339.88 L822.53,341.26 L822.73,342.45 L822.92,343.66 L823.10,345.10 L823.32,348.15 L823.49,351.79 L823.65,355.47 L823.85,358.67 L824.03,360.42 L824.23,361.92 L824.42,363.46 L824.60,365.30 L824.83,369.38 L825.01,374.26 L825.18,379.33 L825.37,383.98 L825.55,387.29 L825.75,390.37 L825.95,393.46 L826.13,396.81 L826.34,402.41 L826.54,408.97 L826.73,414.42 L826.90,416.70 L827.05,414.86 L827.20,410.26 L827.33,404.25 L827.45,398.20 L827.61,386.34 L827.74,371.58 L827.86,359.01 L828.00,353.69 L828.13,357.88 L828.26,367.09 L828.40,376.30 L828.55,380.49 L828.68,378.12 L828.82,372.90 L828.96,367.67 L829.10,365.30 L829.23,367.56 L829.36,372.54 L829.49,377.51 L829.60,379.77 L829.63,373.34 L829.53,358.94 L829.59,343.95 L830.10,335.74 L830.60,335.10 L830.88,337.02 L830.99,341.08 L831.01,345.10 L831.07,346.92 L831.15,341.29 L831.16,328.55 L831.23,314.92 L831.53,306.64 L832.00,304.80 L832.31,310.26 L832.43,322.22 L832.49,334.16 L832.58,339.58 L832.73,334.15 L832.87,322.19 L833.02,310.23 L833.16,304.80 L833.31,311.72 L833.45,326.94 L833.60,342.15 L833.74,349.07 L833.85,342.16 L833.93,326.94 L834.07,311.73 L834.32,304.80 L834.46,305.31 L834.61,306.64 L834.77,308.44 L834.90,310.40 L835.09,316.88 L835.20,325.71 L835.28,333.50 L835.38,336.86 L835.49,333.31 L835.61,325.52 L835.73,317.73 L835.85,314.19 L835.94,317.52 L836.01,325.20 L836.11,333.68 L836.33,339.46 L836.48,340.92 L836.65,342.05 L836.80,342.50 L837.00,340.51 L837.13,335.71 L837.24,329.84 L837.36,324.63 L837.50,319.95 L837.63,314.86 L837.77,310.78 L837.92,309.11 L838.06,310.94 L838.20,314.96 L838.35,318.98 L838.48,320.80 L838.52,317.84 L838.48,311.26 L838.57,304.49 L839.04,301.00 L839.60,301.00 L840.00,303.46 L840.11,308.12 L840.11,312.64 L840.16,314.66 L840.30,312.53 L840.45,307.83 L840.59,303.13 L840.72,301.00 L840.87,304.19 L841.01,311.22 L841.14,318.24 L841.28,321.43 L841.40,318.24 L841.50,311.22 L841.63,304.20 L841.84,301.00 L842.02,301.59 L842.22,303.02 L842.40,304.80 L842.60,309.72 L842.72,316.54 L842.82,322.60 L842.98,325.22 L843.12,324.11 L843.27,321.67 L843.42,319.23 L843.56,318.12 L843.75,322.02 L843.89,330.58 L844.01,339.14 L844.14,343.03 L844.28,339.89 L844.43,332.97 L844.58,326.06 L844.72,322.91 L844.87,327.75 L845.00,338.41 L845.13,349.06 L845.30,353.90 L845.44,352.58 L845.59,349.30 L845.74,345.10 L845.88,341.01 L846.05,334.64 L846.19,327.04 L846.33,320.67 L846.47,318.00 L846.61,322.12 L846.76,331.18 L846.90,340.24 L847.05,344.36 L847.19,341.19 L847.34,334.21 L847.49,327.23 L847.63,324.06 L847.76,326.89 L847.86,333.44 L848.00,340.82 L848.22,346.13 L848.35,347.31 L848.51,348.18 L848.66,349.04 L848.80,350.20 L849.02,355.15 L849.17,361.95 L849.29,367.96 L849.40,370.56 L849.59,360.86 L849.74,339.53 L849.87,318.20 L850.00,308.50 L850.12,315.50 L850.23,330.89 L850.35,346.29 L850.48,353.29 L850.59,348.05 L850.71,336.54 L850.83,325.02 L850.95,319.79 L851.06,326.15 L851.15,340.13 L851.26,354.12 L851.42,360.48 L851.54,358.86 L851.66,355.29 L851.79,351.72 L851.90,350.10 L852.05,355.14 L852.16,366.23 L852.26,377.32 L852.37,382.36 L852.49,377.15 L852.61,365.70 L852.72,354.24 L852.83,349.04 L852.95,358.19 L853.04,378.32 L853.14,398.45 L853.30,407.60 L853.43,405.67 L853.59,400.75 L853.74,394.20 L853.88,387.34 L854.06,369.79 L854.19,346.90 L854.31,327.04 L854.45,318.56 L854.58,326.36 L854.72,343.52 L854.87,360.67 L855.03,368.47 L855.15,363.26 L855.27,351.79 L855.41,340.32 L855.60,335.10 L855.72,336.42 L855.85,339.33 L855.98,342.24 L856.10,343.56 L856.30,335.42 L856.41,317.52 L856.49,299.63 L856.60,291.50 L856.71,296.17 L856.83,306.45 L856.95,316.72 L857.08,321.39 L857.19,316.72 L857.31,306.45 L857.43,296.17 L857.55,291.50 L857.67,296.28 L857.78,306.78 L857.90,317.29 L858.02,322.06 L858.13,318.62 L858.25,311.03 L858.37,303.45 L858.50,300.00 L858.63,302.44 L858.78,307.80 L858.92,313.16 L859.06,315.60 L859.21,311.83 L859.35,303.55 L859.48,295.26 L859.62,291.50 L859.76,295.42 L859.90,304.05 L860.04,312.67 L860.18,316.59 L860.27,312.68 L860.32,304.08 L860.44,295.45 L860.74,291.50 L861.30,293.40 L861.49,295.49 L861.60,298.33 L861.69,300.83 L861.77,301.90 L861.92,298.48 L862.03,290.98 L862.14,283.47 L862.25,280.06 L862.35,283.52 L862.43,291.15 L862.54,298.78 L862.73,302.26 L862.82,301.35 L862.93,299.56 L863.20,298.30 L863.77,298.04 L864.12,295.91 L864.24,292.21 L864.27,288.70 L864.34,287.13 L864.49,288.94 L864.63,292.93 L864.77,296.91 L864.91,298.73 L865.05,296.90 L865.18,292.89 L865.32,288.88 L865.49,287.06 L865.62,287.95 L865.77,289.91 L865.92,291.87 L866.06,292.75 L866.21,291.40 L866.33,288.21 L866.46,284.50 L866.63,281.56 L866.76,280.18 L866.91,278.83 L867.07,277.80 L867.20,277.40 L867.38,279.40 L867.52,283.79 L867.65,288.18 L867.79,290.18 L867.93,288.59 L868.08,285.11 L868.22,281.62 L868.37,280.04 L868.52,281.65 L868.66,285.19 L868.81,288.73 L868.96,290.35 L869.10,289.05 L869.25,286.21 L869.40,283.37 L869.54,282.08 L869.70,283.91 L869.84,287.95 L869.98,291.98 L870.13,293.81 L870.26,292.20 L870.39,288.64 L870.53,285.09 L870.71,283.46 L870.90,284.10 L871.11,285.53 L871.30,287.00 L871.44,288.24 L871.57,289.66 L871.70,290.81 L871.83,291.29 L871.97,290.59 L872.11,289.04 L872.24,287.49 L872.37,286.79 L872.52,288.37 L872.65,291.86 L872.78,295.34 L872.90,296.92 L873.04,295.16 L873.17,291.30 L873.30,287.44 L873.43,285.68 L873.55,287.46 L873.66,291.59 L873.78,296.30 L873.97,299.79 L874.14,300.99 L874.33,301.92 L874.50,303.10 L874.68,306.27 L874.81,310.46 L874.92,314.12 L875.03,315.69 L875.17,313.33 L875.30,308.15 L875.44,302.97 L875.57,300.61 L875.70,303.07 L875.83,308.49 L875.96,313.91 L876.10,316.37 L876.23,314.58 L876.37,310.64 L876.50,306.69 L876.63,304.90 L876.77,306.75 L876.89,311.11 L877.01,316.25 L877.17,320.42 L877.29,322.30 L877.43,323.96 L877.57,325.56 L877.70,327.30 L877.84,330.08 L877.98,333.29 L878.11,335.95 L878.23,337.06 L878.38,334.31 L878.51,328.27 L878.64,322.23 L878.77,319.49 L878.90,322.31 L879.02,328.52 L879.15,334.74 L879.30,337.56 L879.43,335.91 L879.57,332.27 L879.70,328.64 L879.83,326.98 L879.97,329.72 L880.09,335.74 L880.21,341.75 L880.37,344.49 L880.49,343.32 L880.63,340.75 L880.77,338.17 L880.90,337.00 L881.04,338.93 L881.18,343.17 L881.30,347.41 L881.42,349.33 L881.56,346.58 L881.69,340.53 L881.82,334.47 L881.94,331.72 L882.08,335.76 L882.21,344.65 L882.34,353.54 L882.46,357.59 L882.59,352.85 L882.71,342.44 L882.84,332.03 L882.98,327.30 L883.10,329.28 L883.23,334.05 L883.37,339.87 L883.50,345.00 L883.62,349.40 L883.75,354.13 L883.88,357.92 L884.00,359.47 L884.13,356.54 L884.26,350.08 L884.39,343.62 L884.50,340.69 L884.63,346.65 L884.72,359.74 L884.83,372.84 L885.00,378.80 L885.12,377.88 L885.27,375.50 L885.41,372.27 L885.53,368.78 L885.72,357.58 L885.84,342.39 L885.94,329.02 L886.07,323.27 L886.20,327.63 L886.33,337.21 L886.47,346.79 L886.60,351.14 L886.74,344.43 L886.87,329.66 L887.00,314.89 L887.13,308.18 L887.27,313.61 L887.40,325.57 L887.54,337.53 L887.67,342.97 L887.81,334.74 L887.93,316.63 L888.06,298.53 L888.20,290.30 L888.34,297.44 L888.49,313.14 L888.64,328.85 L888.80,335.99 L888.95,330.47 L889.10,318.32 L889.25,306.18 L889.40,300.66 L889.54,306.89 L889.68,320.60 L889.83,334.32 L890.00,340.55 L890.08,338.05 L890.14,332.38 L890.27,326.28 L890.60,322.50 L891.13,321.50 L891.48,316.78 L891.59,308.96 L891.60,301.63 L891.67,298.39 L891.80,301.07 L891.93,306.96 L892.07,312.85 L892.20,315.53 L892.34,311.76 L892.48,303.47 L892.61,295.18 L892.73,291.41 L892.87,296.59 L893.01,307.98 L893.14,319.37 L893.27,324.55 L893.38,318.68 L893.47,305.78 L893.59,292.87 L893.80,287.00 L893.94,288.22 L894.09,290.92 L894.25,293.61 L894.40,294.83 L894.56,292.73 L894.71,288.12 L894.85,283.50 L895.00,281.40 L895.15,283.50 L895.30,288.14 L895.45,292.77 L895.60,294.87 L895.75,292.77 L895.89,288.14 L896.04,283.51 L896.20,281.40 L896.34,282.81 L896.49,285.92 L896.65,289.03 L896.80,290.44 L896.95,289.03 L897.11,285.92 L897.26,282.81 L897.40,281.40 L897.57,283.87 L897.71,289.31 L897.86,294.75 L898.00,297.22 L898.15,294.75 L898.29,289.31 L898.44,283.87 L898.60,281.40 L898.73,282.77 L898.86,285.78 L899.00,288.80 L899.15,290.17 L899.28,289.15 L899.43,286.91 L899.57,284.67 L899.70,283.65 L899.85,285.22 L899.98,288.67 L900.11,292.11 L900.25,293.68 L900.39,292.46 L900.53,289.77 L900.67,287.09 L900.80,285.87 L900.94,287.57 L901.06,291.57 L901.18,296.22 L901.35,299.88 L901.48,301.52 L901.62,303.11 L901.76,304.32 L901.90,304.80 L902.06,304.00 L902.21,302.01 L902.36,299.46 L902.50,296.96 L902.67,292.93 L902.81,288.08 L902.95,284.01 L903.10,282.30 L903.25,283.97 L903.40,287.65 L903.55,291.34 L903.70,293.01 L903.86,290.63 L904.00,285.39 L904.15,280.16 L904.30,277.78 L904.45,279.75 L904.60,284.09 L904.75,288.43 L904.90,290.40 L905.06,287.79 L905.20,282.05 L905.35,276.32 L905.50,273.71 L905.65,276.03 L905.80,281.15 L905.95,286.27 L906.10,288.59 L906.25,286.08 L906.41,280.55 L906.56,275.01 L906.70,272.50 L906.84,275.84 L906.97,283.20 L907.09,290.55 L907.23,293.89 L907.36,291.94 L907.49,287.64 L907.63,283.34 L907.77,281.39 L907.90,282.99 L908.03,286.52 L908.16,290.04 L908.30,291.65 L908.43,290.35 L908.57,287.50 L908.70,284.65 L908.83,283.35 L908.97,284.93 L909.10,288.42 L909.23,291.91 L909.37,293.50 L909.50,291.98 L909.63,288.65 L909.77,285.31 L909.90,283.80 L910.04,285.56 L910.17,289.43 L910.30,293.30 L910.43,295.06 L910.57,293.06 L910.71,288.65 L910.84,284.24 L910.97,282.24 L911.09,285.50 L911.19,292.66 L911.31,299.84 L911.50,303.10 L911.63,302.61 L911.77,301.38 L911.92,299.76 L912.05,298.13 L912.21,294.92 L912.35,290.91 L912.47,287.49 L912.60,286.04 L912.74,287.64 L912.88,291.18 L913.02,294.72 L913.15,296.32 L913.30,293.61 L913.43,287.64 L913.55,281.66 L913.70,278.95 L913.83,280.57 L913.96,284.15 L914.10,287.73 L914.25,289.35 L914.38,288.24 L914.52,285.78 L914.66,283.32 L914.80,282.20 L914.94,283.32 L915.09,285.77 L915.24,288.23 L915.38,289.34 L915.53,288.23 L915.67,285.77 L915.81,283.32 L915.96,282.20 L916.10,283.08 L916.25,285.03 L916.40,286.98 L916.55,287.86 L916.69,286.98 L916.84,285.03 L916.98,283.08 L917.13,282.20 L917.27,283.19 L917.41,285.36 L917.55,287.53 L917.71,288.52 L917.85,287.86 L918.00,286.42 L918.15,284.98 L918.29,284.33 L918.45,285.53 L918.60,288.15 L918.74,290.78 L918.87,291.97 L919.02,290.56 L919.17,287.45 L919.31,284.35 L919.45,282.94 L919.60,284.62 L919.74,288.32 L919.88,292.01 L920.04,293.70 L920.18,292.72 L920.33,290.55 L920.48,288.39 L920.62,287.41 L920.77,288.45 L920.92,290.94 L921.06,294.00 L921.20,296.70 L921.33,299.09 L921.46,301.68 L921.59,303.75 L921.73,304.60 L921.86,303.78 L922.00,301.96 L922.14,300.14 L922.27,299.32 L922.40,300.60 L922.52,303.43 L922.65,306.26 L922.80,307.55 L922.97,306.59 L923.16,304.81 L923.33,303.85 L923.47,304.43 L923.60,305.82 L923.73,307.52 L923.87,308.99 L923.99,310.50 L924.11,311.96 L924.40,312.80 L925.00,312.80 L925.29,311.68 L925.42,309.67 L925.50,307.75 L925.60,306.90 L925.75,307.82 L925.90,309.85 L926.04,311.88 L926.20,312.80 L926.35,312.06 L926.50,310.43 L926.65,308.80 L926.80,308.06 L926.95,308.80 L927.10,310.43 L927.25,312.06 L927.40,312.80 L927.55,311.94 L927.70,310.06 L927.85,308.18 L928.00,307.33 L928.14,308.18 L928.26,310.05 L928.41,311.93 L928.60,312.80 L929.20,311.20 L929.75,312.80 L929.95,311.56 L930.07,308.86 L930.18,306.18 L930.30,304.95 L930.43,305.84 L930.58,307.80 L930.72,309.76 L930.85,310.65 L931.00,309.10 L931.13,305.70 L931.26,302.29 L931.40,300.75 L931.54,302.05 L931.68,304.91 L931.82,307.77 L931.95,309.07 L932.10,306.13 L932.21,299.68 L932.33,293.24 L932.50,290.30 L932.64,291.32 L932.79,293.55 L932.95,295.79 L933.10,296.81 L933.25,295.79 L933.39,293.56 L933.54,291.32 L933.70,290.30 L933.84,290.97 L933.99,292.46 L934.15,293.94 L934.30,294.61 L934.45,293.94 L934.61,292.46 L934.76,290.97 L934.90,290.30 L935.06,291.43 L935.21,293.92 L935.35,296.41 L935.50,297.54 L935.65,296.41 L935.79,293.92 L935.94,291.43 L936.10,290.30 L936.24,291.11 L936.39,292.91 L936.54,294.70 L936.70,295.52 L936.82,295.08 L936.93,293.98 L937.08,292.55 L937.30,291.10 L937.83,288.15 L938.53,284.49 L939.41,281.30 L940.50,279.80 L941.57,280.26 L942.80,281.70 L944.08,283.60 L945.30,285.40 L946.55,287.36 L947.73,289.50 L948.93,291.62 L950.20,293.50 L951.41,294.75 L952.69,295.79 L953.93,296.89 L955.00,298.30 L956.06,301.13 L956.77,304.60 L957.40,308.14 L958.20,311.20 L958.96,312.87 L959.78,314.27 L960.61,315.73 L961.40,317.60 L962.64,323.56 L963.71,331.47 L964.85,338.49 L966.30,341.80 L967.07,341.67 L967.90,340.96 L968.73,339.87 L969.50,338.60 L970.80,333.82 L971.78,326.94 L972.83,320.64 L974.30,317.60 L975.41,318.00 L976.63,319.38 L977.91,321.09 L979.20,322.50 L980.41,323.61 L981.67,324.76 L982.90,325.59 L984.00,325.70 L985.52,322.69 L986.68,316.93 L987.70,311.32 L988.80,308.80 L989.91,310.98 L990.97,316.03 L992.16,321.69 L993.70,325.70 L994.80,327.03 L996.02,328.11 L997.28,328.79 L998.50,328.90 L1000.17,327.16 L1001.82,323.78 L1003.41,320.53 L1004.90,319.20 L1006.80,322.78 L1008.52,330.28 L1010.05,337.68 L1011.40,341.00 L1012.36,339.12 L1013.14,334.63 L1013.85,329.11 L1014.60,324.10" stroke="#0C5DA5"/><path d="M138.80,75.71 L139.80,78.50 L140.80,81.10 L141.80,83.51 L142.80,85.74 L143.80,87.80 L144.80,89.70 L145.80,91.43 L146.80,93.04 L147.80,94.52 L148.80,95.90 L149.80,97.20 L150.80,98.44 L151.80,99.63 L152.80,100.79 L153.80,101.95 L154.80,103.12 L155.80,104.31 L156.80,105.55 L157.80,106.83 L158.80,108.14 L159.80,109.49 L160.80,110.87 L161.80,112.28 L162.80,113.73 L163.80,115.20 L164.80,116.71 L165.80,118.24 L166.80,119.79 L167.80,121.37 L168.80,122.98 L169.80,124.60 L170.80,126.24 L171.80,127.90 L172.80,129.58 L173.80,131.27 L174.80,132.98 L175.80,134.71 L176.80,136.45 L177.80,138.20 L178.80,139.97 L179.80,141.75 L180.80,143.54 L181.80,145.35 L182.80,147.16 L183.80,148.99 L184.80,150.83 L185.80,152.68 L186.80,154.53 L187.80,156.40 L188.80,158.27 L189.80,160.15 L190.80,162.04 L191.80,163.92 L192.80,165.81 L193.80,167.69 L194.80,169.57 L195.80,171.43 L196.80,173.28 L197.80,175.11 L198.80,176.92 L199.80,178.71 L200.80,180.48 L201.80,182.21 L202.80,183.91 L203.80,185.58 L204.80,187.21 L205.80,188.80 L206.80,190.34 L207.80,191.83 L208.80,193.28 L209.80,194.67 L210.80,196.00 L211.80,197.27 L212.80,198.50 L213.80,199.67 L214.80,200.80 L215.80,201.88 L216.80,202.93 L217.80,203.94 L218.80,204.92 L219.80,205.86 L220.80,206.78 L221.80,207.65 L222.80,208.48 L223.80,209.24 L224.80,209.94 L225.80,210.56 L226.80,211.09 L227.80,211.52 L228.80,211.85 L229.80,212.07 L230.80,212.17 L231.80,212.16 L232.80,212.09 L233.80,211.97 L234.80,211.82 L235.80,211.67 L236.80,211.54 L237.80,211.46 L238.80,211.46 L239.80,211.55 L240.80,211.77 L241.80,212.13 L242.80,212.63 L243.80,213.30 L244.80,214.13 L245.80,215.13 L246.80,216.31 L247.80,217.67 L248.80,219.17 L249.80,220.77 L250.80,222.43 L251.80,224.13 L252.80,225.81 L253.80,227.44 L254.80,228.99 L255.80,230.42 L256.80,231.71 L257.80,232.85 L258.80,233.85 L259.80,234.71 L260.80,235.44 L261.80,236.04 L262.80,236.51 L263.80,236.86 L264.80,237.09 L265.80,237.20 L266.80,237.19 L267.80,237.08 L268.80,236.85 L269.80,236.52 L270.80,236.09 L271.80,235.56 L272.80,234.94 L273.80,234.22 L274.80,233.42 L275.80,232.53 L276.80,231.56 L277.80,230.51 L278.80,229.39 L279.80,228.21 L280.80,226.99 L281.80,225.75 L282.80,224.50 L283.80,223.25 L284.80,222.02 L285.80,220.83 L286.80,219.69 L287.80,218.62 L288.80,217.63 L289.80,216.74 L290.80,215.94 L291.80,215.23 L292.80,214.61 L293.80,214.09 L294.80,213.65 L295.80,213.30 L296.80,213.02 L297.80,212.82 L298.80,212.68 L299.80,212.59 L300.80,212.55 L301.80,212.55 L302.80,212.57 L303.80,212.61 L304.80,212.67 L305.80,212.73 L306.80,212.78 L307.80,212.82 L308.80,212.84 L309.80,212.85 L310.80,212.84 L311.80,212.83 L312.80,212.81 L313.80,212.79 L314.80,212.77 L315.80,212.76 L316.80,212.75 L317.80,212.76 L318.80,212.79 L319.80,212.83 L320.80,212.90 L321.80,212.99 L322.80,213.12 L323.80,213.28 L324.80,213.47 L325.80,213.70 L326.80,213.96 L327.80,214.27 L328.80,214.62 L329.80,215.02 L330.80,215.46 L331.80,215.95 L332.80,216.48 L333.80,217.04 L334.80,217.63 L335.80,218.25 L336.80,218.90 L337.80,219.56 L338.80,220.23 L339.80,220.92 L340.80,221.61 L341.80,222.31 L342.80,223.05 L343.80,223.82 L344.80,224.65 L345.80,225.55 L346.80,226.52 L347.80,227.58 L348.80,228.74 L349.80,230.02 L350.80,231.43 L351.80,232.94 L352.80,234.54 L353.80,236.20 L354.80,237.90 L355.80,239.61 L356.80,241.31 L357.80,242.97 L358.80,244.56 L359.80,246.07 L360.80,247.47 L361.80,248.73 L362.80,249.83 L363.80,250.75 L364.80,251.46 L365.80,251.98 L366.80,252.36 L367.80,252.63 L368.80,252.82 L369.80,252.97 L370.80,253.13 L371.80,253.33 L372.80,253.60 L373.80,253.99 L374.80,254.50 L375.80,255.12 L376.80,255.83 L377.80,256.62 L378.80,257.46 L379.80,258.35 L380.80,259.25 L381.80,260.15 L382.80,261.04 L383.80,261.89 L384.80,262.68 L385.80,263.41 L386.80,264.04 L387.80,264.57 L388.80,264.96 L389.80,265.21 L390.80,265.29 L391.80,265.20 L392.80,264.96 L393.80,264.59 L394.80,264.10 L395.80,263.51 L396.80,262.83 L397.80,262.09 L398.80,261.31 L399.80,260.49 L400.80,259.66 L401.80,258.84 L402.80,258.04 L403.80,257.28 L404.80,256.57 L405.80,255.95 L406.80,255.41 L407.80,254.98 L408.80,254.68 L409.80,254.49 L410.80,254.41 L411.80,254.44 L412.80,254.57 L413.80,254.81 L414.80,255.14 L415.80,255.57 L416.80,256.09 L417.80,256.69 L418.80,257.38 L419.80,258.15 L420.80,259.00 L421.80,259.92 L422.80,260.90 L423.80,261.95 L424.80,263.07 L425.80,264.23 L426.80,265.45 L427.80,266.71 L428.80,268.02 L429.80,269.35 L430.80,270.66 L431.80,271.93 L432.80,273.12 L433.80,274.19 L434.80,275.10 L435.80,275.84 L436.80,276.37 L437.80,276.71 L438.80,276.91 L439.80,276.99 L440.80,277.00 L441.80,276.97 L442.80,276.93 L443.80,276.92 L444.80,276.97 L445.80,277.12 L446.80,277.38 L447.80,277.71 L448.80,278.11 L449.80,278.54 L450.80,278.99 L451.80,279.44 L452.80,279.87 L453.80,280.25 L454.80,280.57 L455.80,280.80 L456.80,280.92 L457.80,280.91 L458.80,280.76 L459.80,280.46 L460.80,280.03 L461.80,279.51 L462.80,278.92 L463.80,278.30 L464.80,277.67 L465.80,277.05 L466.80,276.49 L467.80,275.99 L468.80,275.61 L469.80,275.35 L470.80,275.25 L471.80,275.31 L472.80,275.53 L473.80,275.92 L474.80,276.47 L475.80,277.19 L476.80,278.07 L477.80,279.12 L478.80,280.32 L479.80,281.61 L480.80,282.96 L481.80,284.33 L482.80,285.66 L483.80,286.91 L484.80,288.04 L485.80,289.02 L486.80,289.85 L487.80,290.58 L488.80,291.24 L489.80,291.87 L490.80,292.49 L491.80,293.16 L492.80,293.89 L493.80,294.74 L494.80,295.73 L495.80,296.89 L496.80,298.27 L497.80,299.86 L498.80,301.63 L499.80,303.56 L500.80,305.62 L501.80,307.78 L502.80,310.02 L503.80,312.31 L504.80,314.62 L505.80,316.91 L506.80,319.14 L507.80,321.29 L508.80,323.30 L509.80,325.14 L510.80,326.78 L511.80,328.17 L512.80,329.33 L513.80,330.26 L514.80,330.98 L515.80,331.48 L516.80,331.78 L517.80,331.89 L518.80,331.81 L519.80,331.55 L520.80,331.13 L521.80,330.55 L522.80,329.82 L523.80,328.95 L524.80,327.95 L525.80,326.82 L526.80,325.58 L527.80,324.23 L528.80,322.79 L529.80,321.25 L530.80,319.64 L531.80,317.95 L532.80,316.21 L533.80,314.40 L534.80,312.55 L535.80,310.67 L536.80,308.76 L537.80,306.82 L538.80,304.88 L539.80,302.93 L540.80,300.98 L541.80,299.05 L542.80,297.14 L543.80,295.25 L544.80,293.41 L545.80,291.60 L546.80,289.85 L547.80,288.16 L548.80,286.54 L549.80,285.00 L550.80,283.54 L551.80,282.18 L552.80,280.91 L553.80,279.76 L554.80,278.72 L555.80,277.80 L556.80,276.99 L557.80,276.30 L558.80,275.70 L559.80,275.21 L560.80,274.80 L561.80,274.49 L562.80,274.26 L563.80,274.11 L564.80,274.04 L565.80,274.04 L566.80,274.10 L567.80,274.22 L568.80,274.39 L569.80,274.61 L570.80,274.86 L571.80,275.15 L572.80,275.46 L573.80,275.79 L574.80,276.14 L575.80,276.49 L576.80,276.84 L577.80,277.18 L578.80,277.51 L579.80,277.82 L580.80,278.11 L581.80,278.36 L582.80,278.57 L583.80,278.73 L584.80,278.84 L585.80,278.91 L586.80,278.92 L587.80,278.88 L588.80,278.79 L589.80,278.65 L590.80,278.45 L591.80,278.21 L592.80,277.91 L593.80,277.56 L594.80,277.16 L595.80,276.71 L596.80,276.20 L597.80,275.65 L598.80,275.04 L599.80,274.37 L600.80,273.66 L601.80,272.89 L602.80,272.07 L603.80,271.19 L604.80,270.28 L605.80,269.33 L606.80,268.36 L607.80,267.39 L608.80,266.44 L609.80,265.52 L610.80,264.64 L611.80,263.82 L612.80,263.08 L613.80,262.42 L614.80,261.87 L615.80,261.43 L616.80,261.13 L617.80,260.98 L618.80,260.99 L619.80,261.16 L620.80,261.46 L621.80,261.86 L622.80,262.32 L623.80,262.82 L624.80,263.33 L625.80,263.80 L626.80,264.22 L627.80,264.55 L628.80,264.76 L629.80,264.82 L630.80,264.70 L631.80,264.42 L632.80,263.99 L633.80,263.43 L634.80,262.76 L635.80,262.00 L636.80,261.15 L637.80,260.25 L638.80,259.30 L639.80,258.33 L640.80,257.36 L641.80,256.39 L642.80,255.45 L643.80,254.56 L644.80,253.73 L645.80,252.98 L646.80,252.34 L647.80,251.80 L648.80,251.40 L649.80,251.15 L650.80,251.08 L651.80,251.17 L652.80,251.42 L653.80,251.81 L654.80,252.32 L655.80,252.93 L656.80,253.63 L657.80,254.39 L658.80,255.19 L659.80,256.02 L660.80,256.86 L661.80,257.69 L662.80,258.50 L663.80,259.25 L664.80,259.94 L665.80,260.55 L666.80,261.06 L667.80,261.44 L668.80,261.69 L669.80,261.83 L670.80,261.85 L671.80,261.77 L672.80,261.60 L673.80,261.34 L674.80,261.01 L675.80,260.63 L676.80,260.19 L677.80,259.74 L678.80,259.27 L679.80,258.83 L680.80,258.43 L681.80,258.08 L682.80,257.82 L683.80,257.65 L684.80,257.61 L685.80,257.71 L686.80,257.97 L687.80,258.36 L688.80,258.89 L689.80,259.52 L690.80,260.24 L691.80,261.03 L692.80,261.88 L693.80,262.77 L694.80,263.68 L695.80,264.61 L696.80,265.54 L697.80,266.47 L698.80,267.40 L699.80,268.30 L700.80,269.17 L701.80,270.00 L702.80,270.78 L703.80,271.51 L704.80,272.19 L705.80,272.81 L706.80,273.39 L707.80,273.92 L708.80,274.42 L709.80,274.87 L710.80,275.29 L711.80,275.67 L712.80,276.02 L713.80,276.35 L714.80,276.67 L715.80,276.97 L716.80,277.27 L717.80,277.58 L718.80,277.89 L719.80,278.23 L720.80,278.59 L721.80,278.98 L722.80,279.42 L723.80,279.90 L724.80,280.43 L725.80,281.02 L726.80,281.69 L727.80,282.43 L728.80,283.25 L729.80,284.16 L730.80,285.16 L731.80,286.27 L732.80,287.47 L733.80,288.75 L734.80,290.10 L735.80,291.48 L736.80,292.91 L737.80,294.34 L738.80,295.78 L739.80,297.22 L740.80,298.64 L741.80,300.05 L742.80,301.45 L743.80,302.83 L744.80,304.20 L745.80,305.56 L746.80,306.89 L747.80,308.21 L748.80,309.51 L749.80,310.79 L750.80,312.05 L751.80,313.29 L752.80,314.51 L753.80,315.70 L754.80,316.86 L755.80,318.00 L756.80,319.11 L757.80,320.19 L758.80,321.24 L759.80,322.26 L760.80,323.25 L761.80,324.21 L762.80,325.13 L763.80,326.01 L764.80,326.86 L765.80,327.68 L766.80,328.45 L767.80,329.19 L768.80,329.88 L769.80,330.54 L770.80,331.16 L771.80,331.74 L772.80,332.27 L773.80,332.77 L774.80,333.23 L775.80,333.64 L776.80,334.01 L777.80,334.34 L778.80,334.63 L779.80,334.88 L780.80,335.08 L781.80,335.23 L782.80,335.34 L783.80,335.41 L784.80,335.43 L785.80,335.41 L786.80,335.34 L787.80,335.21 L788.80,335.00 L789.80,334.71 L790.80,334.32 L791.80,333.81 L792.80,333.18 L793.80,332.40 L794.80,331.49 L795.80,330.46 L796.80,329.32 L797.80,328.11 L798.80,326.83 L799.80,325.52 L800.80,324.18 L801.80,322.84 L802.80,321.52 L803.80,320.24 L804.80,319.01 L805.80,317.86 L806.80,316.80 L807.80,315.86 L808.80,315.05 L809.80,314.40 L810.80,313.92 L811.80,313.64 L812.80,313.56 L813.80,313.70 L814.80,314.04 L815.80,314.57 L816.80,315.28 L817.80,316.15 L818.80,317.17 L819.80,318.32 L820.80,319.60 L821.80,320.97 L822.80,322.40 L823.80,323.83 L824.80,325.25 L825.80,326.60 L826.80,327.86 L827.80,328.99 L828.80,329.96 L829.80,330.75 L830.80,331.35 L831.80,331.74 L832.80,331.91 L833.80,331.85 L834.80,331.57 L835.80,331.12 L836.80,330.52 L837.80,329.81 L838.80,329.02 L839.80,328.20 L840.80,327.36 L841.80,326.55 L842.80,325.75 L843.80,324.98 L844.80,324.23 L845.80,323.50 L846.80,322.81 L847.80,322.14 L848.80,321.51 L849.80,320.91 L850.80,320.35 L851.80,319.82 L852.80,319.31 L853.80,318.82 L854.80,318.34 L855.80,317.87 L856.80,317.40 L857.80,316.91 L858.80,316.41 L859.80,315.89 L860.80,315.34 L861.80,314.75 L862.80,314.12 L863.80,313.44 L864.80,312.70 L865.80,311.90 L866.80,311.03 L867.80,310.09 L868.80,309.06 L869.80,307.97 L870.80,306.83 L871.80,305.67 L872.80,304.51 L873.80,303.37 L874.80,302.27 L875.80,301.23 L876.80,300.28 L877.80,299.42 L878.80,298.64 L879.80,297.96 L880.80,297.35 L881.80,296.82 L882.80,296.38 L883.80,296.00 L884.80,295.70 L885.80,295.46 L886.80,295.30 L887.80,295.19 L888.80,295.15 L889.80,295.16 L890.80,295.23 L891.80,295.35 L892.80,295.53 L893.80,295.74 L894.80,295.98 L895.80,296.24 L896.80,296.51 L897.80,296.77 L898.80,297.01 L899.80,297.23 L900.80,297.40 L901.80,297.51 L902.80,297.57 L903.80,297.57 L904.80,297.52 L905.80,297.44 L906.80,297.34 L907.80,297.24 L908.80,297.13 L909.80,297.04 L910.80,296.97 L911.80,296.95 L912.80,296.96 L913.80,297.01 L914.80,297.09 L915.80,297.19 L916.80,297.30 L917.80,297.41 L918.80,297.51 L919.80,297.60 L920.80,297.67 L921.80,297.71 L922.80,297.71 L923.80,297.66 L924.80,297.56 L925.80,297.40 L926.80,297.18 L927.80,296.92 L928.80,296.60 L929.80,296.25 L930.80,295.86 L931.80,295.45 L932.80,295.00 L933.80,294.53 L934.80,294.04 L935.80,293.54 L936.80,293.03 L937.80,292.51 L938.80,291.99 L939.80,291.48 L940.80,290.97 L941.80,290.48 L942.80,290.01 L943.80,289.55 L944.80,289.11 L945.80,288.70 L946.80,288.32 L947.80,287.97 L948.80,287.65 L949.80,287.37 L950.80,287.13 L951.80,286.94 L952.80,286.79 L953.80,286.69 L954.80,286.65 L955.80,286.66 L956.80,286.73 L957.80,286.86 L958.80,287.04 L959.80,287.27 L960.80,287.54 L961.80,287.84 L962.80,288.16 L963.80,288.50 L964.80,288.86 L965.80,289.23 L966.80,289.61 L967.80,290.00 L968.80,290.41 L969.80,290.83 L970.80,291.26 L971.80,291.69 L972.80,292.14 L973.80,292.60 L974.80,293.06 L975.80,293.53 L976.80,294.01 L977.80,294.49 L978.80,294.98 L979.80,295.47 L980.80,295.97 L981.80,296.47 L982.80,296.97 L983.80,297.48 L984.80,297.98 L985.80,298.49 L986.80,298.99 L987.80,299.50 L988.80,300.01 L989.80,300.51 L990.80,301.01 L991.80,301.51 L992.80,302.00 L993.80,302.49 L994.80,302.98 L995.80,303.48 L996.80,303.98 L997.80,304.49 L998.80,305.01 L999.80,305.55 L1000.80,306.10 L1001.80,306.67 L1002.80,307.27 L1003.80,307.89 L1004.80,308.54 L1005.80,309.21 L1006.80,309.92 L1007.80,310.67 L1008.80,311.45 L1009.80,312.28 L1010.80,313.15 L1011.80,314.06 L1012.80,315.02 L1013.80,316.04 L1014.60,316.89" stroke="#000"/><path d="M138.60,67.89 L139.60,69.79 L140.60,71.67 L141.60,73.54 L142.60,75.39 L143.60,77.22 L144.60,79.03 L145.60,80.83 L146.60,82.61 L147.60,84.37 L148.60,86.12 L149.60,87.85 L150.60,89.56 L151.60,91.26 L152.60,92.94 L153.60,94.61 L154.60,96.26 L155.60,97.89 L156.60,99.51 L157.60,101.11 L158.60,102.70 L159.60,104.27 L160.60,105.83 L161.60,107.37 L162.60,108.90 L163.60,110.41 L164.60,111.91 L165.60,113.39 L166.60,114.86 L167.60,116.31 L168.60,117.75 L169.60,119.18 L170.60,120.59 L171.60,121.99 L172.60,123.37 L173.60,124.75 L174.60,126.10 L175.60,127.45 L176.60,128.78 L177.60,130.10 L178.60,131.40 L179.60,132.70 L180.60,133.98 L181.60,135.25 L182.60,136.50 L183.60,137.74 L184.60,138.97 L185.60,140.19 L186.60,141.40 L187.60,142.60 L188.60,143.78 L189.60,144.95 L190.60,146.11 L191.60,147.26 L192.60,148.40 L193.60,149.53 L194.60,150.64 L195.60,151.75 L196.60,152.84 L197.60,153.93 L198.60,155.00 L199.60,156.06 L200.60,157.12 L201.60,158.16 L202.60,159.19 L203.60,160.22 L204.60,161.23 L205.60,162.24 L206.60,163.23 L207.60,164.22 L208.60,165.19 L209.60,166.16 L210.60,167.12 L211.60,168.07 L212.60,169.01 L213.60,169.94 L214.60,170.87 L215.60,171.78 L216.60,172.69 L217.60,173.59 L218.60,174.48 L219.60,175.37 L220.60,176.24 L221.60,177.11 L222.60,177.97 L223.60,178.82 L224.60,179.66 L225.60,180.49 L226.60,181.32 L227.60,182.14 L228.60,182.95 L229.60,183.76 L230.60,184.56 L231.60,185.34 L232.60,186.13 L233.60,186.90 L234.60,187.67 L235.60,188.43 L236.60,189.18 L237.60,189.93 L238.60,190.67 L239.60,191.40 L240.60,192.12 L241.60,192.84 L242.60,193.55 L243.60,194.25 L244.60,194.95 L245.60,195.64 L246.60,196.32 L247.60,197.00 L248.60,197.67 L249.60,198.34 L250.60,198.99 L251.60,199.64 L252.60,200.29 L253.60,200.93 L254.60,201.56 L255.60,202.19 L256.60,202.81 L257.60,203.42 L258.60,204.03 L259.60,204.63 L260.60,205.22 L261.60,205.81 L262.60,206.40 L263.60,206.98 L264.60,207.55 L265.60,208.12 L266.60,208.68 L267.60,209.23 L268.60,209.78 L269.60,210.33 L270.60,210.87 L271.60,211.40 L272.60,211.93 L273.60,212.46 L274.60,212.98 L275.60,213.49 L276.60,214.00 L277.60,214.50 L278.60,215.00 L279.60,215.50 L280.60,215.98 L281.60,216.47 L282.60,216.95 L283.60,217.42 L284.60,217.89 L285.60,218.36 L286.60,218.82 L287.60,219.28 L288.60,219.73 L289.60,220.18 L290.60,220.62 L291.60,221.06 L292.60,221.50 L293.60,221.93 L294.60,222.36 L295.60,222.78 L296.60,223.20 L297.60,223.61 L298.60,224.03 L299.60,224.43 L300.60,224.84 L301.60,225.24 L302.60,225.63 L303.60,226.03 L304.60,226.42 L305.60,226.80 L306.60,227.19 L307.60,227.57 L308.60,227.94 L309.60,228.32 L310.60,228.69 L311.60,229.05 L312.60,229.42 L313.60,229.78 L314.60,230.13 L315.60,230.49 L316.60,230.84 L317.60,231.19 L318.60,231.54 L319.60,231.88 L320.60,232.22 L321.60,232.56 L322.60,232.89 L323.60,233.23 L324.60,233.56 L325.60,233.88 L326.60,234.21 L327.60,234.53 L328.60,234.85 L329.60,235.17 L330.60,235.48 L331.60,235.79 L332.60,236.10 L333.60,236.41 L334.60,236.71 L335.60,237.01 L336.60,237.31 L337.60,237.61 L338.60,237.91 L339.60,238.20 L340.60,238.49 L341.60,238.78 L342.60,239.06 L343.60,239.34 L344.60,239.62 L345.60,239.90 L346.60,240.18 L347.60,240.45 L348.60,240.73 L349.60,241.00 L350.60,241.26 L351.60,241.53 L352.60,241.79 L353.60,242.05 L354.60,242.31 L355.60,242.57 L356.60,242.83 L357.60,243.08 L358.60,243.33 L359.60,243.58 L360.60,243.83 L361.60,244.07 L362.60,244.32 L363.60,244.56 L364.60,244.80 L365.60,245.04 L366.60,245.27 L367.60,245.51 L368.60,245.74 L369.60,245.97 L370.60,246.20 L371.60,246.43 L372.60,246.66 L373.60,246.88 L374.60,247.10 L375.60,247.33 L376.60,247.55 L377.60,247.76 L378.60,247.98 L379.60,248.20 L380.60,248.41 L381.60,248.62 L382.60,248.83 L383.60,249.04 L384.60,249.25 L385.60,249.46 L386.60,249.66 L387.60,249.86 L388.60,250.07 L389.60,250.27 L390.60,250.47 L391.60,250.67 L392.60,250.86 L393.60,251.06 L394.60,251.25 L395.60,251.45 L396.60,251.64 L397.60,251.83 L398.60,252.02 L399.60,252.21 L400.60,252.40 L401.60,252.59 L402.60,252.77 L403.60,252.96 L404.60,253.14 L405.60,253.32 L406.60,253.51 L407.60,253.69 L408.60,253.87 L409.60,254.05 L410.60,254.22 L411.60,254.40 L412.60,254.58 L413.60,254.76 L414.60,254.93 L415.60,255.10 L416.60,255.28 L417.60,255.45 L418.60,255.62 L419.60,255.79 L420.60,255.97 L421.60,256.14 L422.60,256.30 L423.60,256.47 L424.60,256.64 L425.60,256.81 L426.60,256.97 L427.60,257.14 L428.60,257.30 L429.60,257.47 L430.60,257.63 L431.60,257.79 L432.60,257.96 L433.60,258.12 L434.60,258.28 L435.60,258.44 L436.60,258.60 L437.60,258.75 L438.60,258.91 L439.60,259.07 L440.60,259.23 L441.60,259.38 L442.60,259.54 L443.60,259.69 L444.60,259.84 L445.60,260.00 L446.60,260.15 L447.60,260.30 L448.60,260.45 L449.60,260.60 L450.60,260.75 L451.60,260.90 L452.60,261.05 L453.60,261.19 L454.60,261.34 L455.60,261.49 L456.60,261.63 L457.60,261.78 L458.60,261.92 L459.60,262.07 L460.60,262.21 L461.60,262.35 L462.60,262.49 L463.60,262.63 L464.60,262.77 L465.60,262.91 L466.60,263.05 L467.60,263.19 L468.60,263.33 L469.60,263.46 L470.60,263.60 L471.60,263.74 L472.60,263.87 L473.60,264.01 L474.60,264.14 L475.60,264.27 L476.60,264.41 L477.60,264.54 L478.60,264.67 L479.60,264.80 L480.60,264.93 L481.60,265.06 L482.60,265.19 L483.60,265.32 L484.60,265.45 L485.60,265.57 L486.60,265.70 L487.60,265.83 L488.60,265.95 L489.60,266.08 L490.60,266.20 L491.60,266.33 L492.60,266.45 L493.60,266.57 L494.60,266.69 L495.60,266.82 L496.60,266.94 L497.60,267.06 L498.60,267.18 L499.60,267.30 L500.60,267.41 L501.60,267.53 L502.60,267.65 L503.60,267.77 L504.60,267.88 L505.60,268.00 L506.60,268.12 L507.60,268.23 L508.60,268.34 L509.60,268.46 L510.60,268.57 L511.60,268.68 L512.60,268.80 L513.60,268.91 L514.60,269.02 L515.60,269.13 L516.60,269.24 L517.60,269.35 L518.60,269.46 L519.60,269.57 L520.60,269.68 L521.60,269.78 L522.60,269.89 L523.60,270.00 L524.60,270.10 L525.60,270.21 L526.60,270.31 L527.60,270.42 L528.60,270.52 L529.60,270.63 L530.60,270.73 L531.60,270.83 L532.60,270.93 L533.60,271.04 L534.60,271.14 L535.60,271.24 L536.60,271.34 L537.60,271.44 L538.60,271.54 L539.60,271.64 L540.60,271.73 L541.60,271.83 L542.60,271.93 L543.60,272.03 L544.60,272.12 L545.60,272.22 L546.60,272.31 L547.60,272.41 L548.60,272.50 L549.60,272.60 L550.60,272.69 L551.60,272.79 L552.60,272.88 L553.60,272.97 L554.60,273.06 L555.60,273.16 L556.60,273.25 L557.60,273.34 L558.60,273.43 L559.60,273.52 L560.60,273.61 L561.60,273.70 L562.60,273.79 L563.60,273.87 L564.60,273.96 L565.60,274.05 L566.60,274.14 L567.60,274.22 L568.60,274.31 L569.60,274.40 L570.60,274.48 L571.60,274.57 L572.60,274.65 L573.60,274.74 L574.60,274.82 L575.60,274.90 L576.60,274.99 L577.60,275.07 L578.60,275.15 L579.60,275.24 L580.60,275.32 L581.60,275.40 L582.60,275.48 L583.60,275.56 L584.60,275.64 L585.60,275.72 L586.60,275.80 L587.60,275.88 L588.60,275.96 L589.60,276.04 L590.60,276.12 L591.60,276.19 L592.60,276.27 L593.60,276.35 L594.60,276.43 L595.60,276.50 L596.60,276.58 L597.60,276.65 L598.60,276.73 L599.60,276.80 L600.60,276.88 L601.60,276.95 L602.60,277.03 L603.60,277.10 L604.60,277.18 L605.60,277.25 L606.60,277.32 L607.60,277.40 L608.60,277.47 L609.60,277.54 L610.60,277.61 L611.60,277.68 L612.60,277.75 L613.60,277.83 L614.60,277.90 L615.60,277.97 L616.60,278.04 L617.60,278.11 L618.60,278.18 L619.60,278.25 L620.60,278.31 L621.60,278.38 L622.60,278.45 L623.60,278.52 L624.60,278.59 L625.60,278.66 L626.60,278.72 L627.60,278.79 L628.60,278.86 L629.60,278.92 L630.60,278.99 L631.60,279.06 L632.60,279.12 L633.60,279.19 L634.60,279.25 L635.60,279.32 L636.60,279.38 L637.60,279.45 L638.60,279.51 L639.60,279.58 L640.60,279.64 L641.60,279.70 L642.60,279.77 L643.60,279.83 L644.60,279.89 L645.60,279.96 L646.60,280.02 L647.60,280.08 L648.60,280.14 L649.60,280.21 L650.60,280.27 L651.60,280.33 L652.60,280.39 L653.60,280.45 L654.60,280.51 L655.60,280.57 L656.60,280.63 L657.60,280.70 L658.60,280.76 L659.60,280.82 L660.60,280.88 L661.60,280.94 L662.60,280.99 L663.60,281.05 L664.60,281.11 L665.60,281.17 L666.60,281.23 L667.60,281.29 L668.60,281.35 L669.60,281.41 L670.60,281.47 L671.60,281.52 L672.60,281.58 L673.60,281.64 L674.60,281.70 L675.60,281.75 L676.60,281.81 L677.60,281.87 L678.60,281.93 L679.60,281.98 L680.60,282.04 L681.60,282.10 L682.60,282.15 L683.60,282.21 L684.60,282.27 L685.60,282.32 L686.60,282.38 L687.60,282.43 L688.60,282.49 L689.60,282.55 L690.60,282.60 L691.60,282.66 L692.60,282.71 L693.60,282.77 L694.60,282.82 L695.60,282.88 L696.60,282.93 L697.60,282.99 L698.60,283.04 L699.60,283.10 L700.60,283.15 L701.60,283.21 L702.60,283.26 L703.60,283.31 L704.60,283.37 L705.60,283.42 L706.60,283.48 L707.60,283.53 L708.60,283.59 L709.60,283.64 L710.60,283.69 L711.60,283.75 L712.60,283.80 L713.60,283.85 L714.60,283.91 L715.60,283.96 L716.60,284.02 L717.60,284.07 L718.60,284.12 L719.60,284.18 L720.60,284.23 L721.60,284.28 L722.60,284.34 L723.60,284.39 L724.60,284.44 L725.60,284.50 L726.60,284.55 L727.60,284.60 L728.60,284.65 L729.60,284.71 L730.60,284.76 L731.60,284.81 L732.60,284.87 L733.60,284.92 L734.60,284.97 L735.60,285.03 L736.60,285.08 L737.60,285.13 L738.60,285.19 L739.60,285.24 L740.60,285.29 L741.60,285.34 L742.60,285.40 L743.60,285.45 L744.60,285.50 L745.60,285.56 L746.60,285.61 L747.60,285.66 L748.60,285.72 L749.60,285.77 L750.60,285.82 L751.60,285.88 L752.60,285.93 L753.60,285.98 L754.60,286.04 L755.60,286.09 L756.60,286.14 L757.60,286.20 L758.60,286.25 L759.60,286.30 L760.60,286.36 L761.60,286.41 L762.60,286.47 L763.60,286.52 L764.60,286.57 L765.60,286.63 L766.60,286.68 L767.60,286.74 L768.60,286.79 L769.60,286.84 L770.60,286.90 L771.60,286.95 L772.60,287.01 L773.60,287.06 L774.60,287.12 L775.60,287.17 L776.60,287.23 L777.60,287.28 L778.60,287.34 L779.60,287.39 L780.60,287.45 L781.60,287.50 L782.60,287.56 L783.60,287.61 L784.60,287.67 L785.60,287.72 L786.60,287.78 L787.60,287.84 L788.60,287.89 L789.60,287.95 L790.60,288.00 L791.60,288.06 L792.60,288.12 L793.60,288.17 L794.60,288.23 L795.60,288.29 L796.60,288.35 L797.60,288.40 L798.60,288.46 L799.60,288.52 L800.60,288.58 L801.60,288.64 L802.60,288.69 L803.60,288.75 L804.60,288.81 L805.60,288.87 L806.60,288.93 L807.60,288.99 L808.60,289.05 L809.60,289.11 L810.60,289.17 L811.60,289.23 L812.60,289.29 L813.60,289.36 L814.60,289.42 L815.60,289.48 L816.60,289.54 L817.60,289.61 L818.60,289.67 L819.60,289.74 L820.60,289.80 L821.60,289.87 L822.60,289.93 L823.60,290.00 L824.60,290.07 L825.60,290.13 L826.60,290.20 L827.60,290.27 L828.60,290.34 L829.60,290.41 L830.60,290.48 L831.60,290.55 L832.60,290.62 L833.60,290.69 L834.60,290.77 L835.60,290.84 L836.60,290.91 L837.60,290.99 L838.60,291.06 L839.60,291.14 L840.60,291.22 L841.60,291.29 L842.60,291.37 L843.60,291.45 L844.60,291.53 L845.60,291.61 L846.60,291.69 L847.60,291.78 L848.60,291.86 L849.60,291.94 L850.60,292.03 L851.60,292.11 L852.60,292.20 L853.60,292.29 L854.60,292.38 L855.60,292.46 L856.60,292.55 L857.60,292.65 L858.60,292.74 L859.60,292.83 L860.60,292.92 L861.60,293.02 L862.60,293.11 L863.60,293.21 L864.60,293.31 L865.60,293.41 L866.60,293.51 L867.60,293.61 L868.60,293.71 L869.60,293.81 L870.60,293.92 L871.60,294.02 L872.60,294.13 L873.60,294.24 L874.60,294.35 L875.60,294.46 L876.60,294.57 L877.60,294.68 L878.60,294.79 L879.60,294.91 L880.60,295.03 L881.60,295.14 L882.60,295.26 L883.60,295.38 L884.60,295.50 L885.60,295.62 L886.60,295.75 L887.60,295.87 L888.60,296.00 L889.60,296.13 L890.60,296.26 L891.60,296.39 L892.60,296.52 L893.60,296.65 L894.60,296.78 L895.60,296.92 L896.60,297.06 L897.60,297.20 L898.60,297.34 L899.60,297.48 L900.60,297.62 L901.60,297.77 L902.60,297.91 L903.60,298.06 L904.60,298.21 L905.60,298.36 L906.60,298.51 L907.60,298.67 L908.60,298.82 L909.60,298.98 L910.60,299.14 L911.60,299.30 L912.60,299.46 L913.60,299.62 L914.60,299.79 L915.60,299.95 L916.60,300.12 L917.60,300.29 L918.60,300.46 L919.60,300.64 L920.60,300.81 L921.60,300.99 L922.60,301.17 L923.60,301.35 L924.60,301.53 L925.60,301.72 L926.60,301.90 L927.60,302.09 L928.60,302.28 L929.60,302.47 L930.60,302.66 L931.60,302.86 L932.60,303.06 L933.60,303.25 L934.60,303.46 L935.60,303.66 L936.60,303.86 L937.60,304.07 L938.60,304.28 L939.60,304.49 L940.60,304.70 L941.60,304.92 L942.60,305.13 L943.60,305.35 L944.60,305.57 L945.60,305.79 L946.60,306.02 L947.60,306.25 L948.60,306.47 L949.60,306.71 L950.60,306.94 L951.60,307.17 L952.60,307.41 L953.60,307.65 L954.60,307.89 L955.60,308.14 L956.60,308.38 L957.60,308.63 L958.60,308.88 L959.60,309.13 L960.60,309.39 L961.60,309.65 L962.60,309.91 L963.60,310.18 L964.60,310.45 L965.60,310.72 L966.60,311.00 L967.60,311.28 L968.60,311.57 L969.60,311.86 L970.60,312.15 L971.60,312.46 L972.60,312.76 L973.60,313.08 L974.60,313.39 L975.60,313.72 L976.60,314.05 L977.60,314.39 L978.60,314.73 L979.60,315.08 L980.60,315.44 L981.60,315.80 L982.60,316.18 L983.60,316.56 L984.60,316.95 L985.60,317.34 L986.60,317.75 L987.60,318.16 L988.60,318.58 L989.60,319.02 L990.60,319.46 L991.60,319.91 L992.60,320.37 L993.60,320.84 L994.60,321.32 L995.60,321.81 L996.60,322.31 L997.60,322.82 L998.60,323.35 L999.60,323.88 L1000.60,324.43 L1001.60,324.98 L1002.60,325.55 L1003.60,326.13 L1004.60,326.73 L1005.60,327.33 L1006.60,327.95 L1007.60,328.58 L1008.60,329.23 L1009.60,329.89 L1010.60,330.56 L1011.60,331.24 L1012.60,331.94 L1013.60,332.65 L1014.60,333.38" stroke="#f00"/></g><g clip-path="url(#c2)" fill="none" stroke-width="2.8" stroke-linejoin="round" stroke-linecap="butt"><path d="M138.50,658.90 L139.43,658.11 L139.71,657.26 L139.90,656.10 L140.09,654.93 L140.37,654.08 L141.30,653.30 L141.62,654.21 L141.82,656.01 L141.99,657.79 L142.25,658.62 L142.72,657.71 L143.20,656.77 L143.51,657.39 L143.80,658.65 L144.15,659.72 L145.10,660.80 L146.05,659.79 L146.40,658.63 L146.68,657.24 L147.00,656.54 L147.95,658.27 L148.90,657.00 L149.25,657.79 L149.56,659.19 L149.85,659.93 L150.11,659.24 L150.35,657.75 L150.58,656.26 L150.80,655.58 L151.00,656.61 L151.14,658.91 L151.35,661.32 L151.75,662.70 L152.70,662.70 L153.06,661.90 L153.26,660.50 L153.39,658.85 L153.55,657.28 L153.74,655.43 L153.90,653.33 L154.10,651.61 L154.40,650.85 L154.95,651.80 L155.50,652.76 L155.79,651.62 L155.95,649.21 L156.09,646.83 L156.29,645.74 L156.60,646.90 L156.97,649.45 L157.34,652.01 L157.67,653.17 L157.90,652.39 L158.10,650.68 L158.30,648.96 L158.53,648.18 L158.81,649.04 L159.11,650.94 L159.42,652.85 L159.71,653.71 L160.00,652.59 L160.28,650.13 L160.55,647.67 L160.81,646.55 L161.05,647.43 L161.27,649.35 L161.51,651.27 L161.77,652.15 L162.07,651.25 L162.41,649.24 L162.75,647.23 L163.06,646.33 L163.36,647.52 L163.63,650.13 L163.89,652.75 L164.16,653.93 L164.45,652.91 L164.74,650.67 L165.03,648.42 L165.30,647.40 L165.54,648.55 L165.76,651.07 L165.98,653.59 L166.20,654.73 L166.47,653.38 L166.74,650.42 L167.01,647.45 L167.29,646.10 L167.57,647.58 L167.84,650.82 L168.12,654.07 L168.45,655.56 L168.77,654.65 L169.11,652.63 L169.46,650.62 L169.75,649.71 L170.03,651.20 L170.23,654.46 L170.41,657.71 L170.61,659.19 L170.84,657.35 L171.06,653.29 L171.29,649.23 L171.56,647.38 L171.88,649.26 L172.24,653.39 L172.60,657.52 L172.92,659.40 L173.16,657.90 L173.37,654.60 L173.58,651.29 L173.79,649.79 L174.01,651.36 L174.23,654.83 L174.46,658.29 L174.69,659.86 L175.09,656.17 L175.53,648.07 L175.95,639.98 L176.30,636.30 L176.51,638.95 L176.67,644.77 L176.82,650.58 L177.00,653.23 L177.17,651.75 L177.35,648.49 L177.53,645.23 L177.70,643.75 L177.87,646.26 L178.00,651.79 L178.16,657.33 L178.40,659.86 L178.61,658.89 L178.84,657.08 L179.10,656.10 L179.49,657.42 L179.86,658.72 L180.13,656.83 L180.30,652.71 L180.44,648.60 L180.62,646.73 L180.80,648.02 L181.00,650.86 L181.19,653.70 L181.38,654.99 L181.56,653.17 L181.72,649.18 L181.90,645.18 L182.14,643.35 L182.38,643.91 L182.65,645.22 L182.90,646.70 L183.11,648.80 L183.28,651.40 L183.45,653.62 L183.66,654.57 L183.91,653.67 L184.17,651.99 L184.42,651.09 L184.63,652.22 L184.82,654.70 L184.99,657.17 L185.18,658.30 L185.37,657.47 L185.56,655.66 L185.76,653.84 L185.94,653.02 L186.13,654.39 L186.28,657.39 L186.45,660.41 L186.70,661.80 L187.11,660.87 L187.52,659.10 L187.77,657.49 L187.97,655.49 L188.16,653.80 L188.35,653.09 L188.56,654.27 L188.77,656.86 L188.97,659.46 L189.17,660.64 L189.38,659.51 L189.58,657.04 L189.79,654.56 L190.00,653.43 L190.21,654.38 L190.42,656.48 L190.63,658.58 L190.82,659.53 L191.04,658.05 L191.23,654.80 L191.43,651.55 L191.65,650.06 L191.84,650.89 L192.03,652.71 L192.25,654.54 L192.48,655.38 L192.75,654.58 L193.04,653.09 L193.30,652.30 L193.53,653.52 L193.70,656.18 L193.87,658.84 L194.08,660.06 L194.33,659.15 L194.61,657.44 L194.87,656.53 L195.07,657.33 L195.26,659.09 L195.45,660.85 L195.65,661.66 L195.84,661.00 L196.04,659.55 L196.24,658.10 L196.43,657.44 L196.63,658.10 L196.81,659.65 L196.99,661.48 L197.22,662.97 L197.59,664.61 L198.00,665.50 L198.42,664.79 L198.82,663.37 L199.08,661.59 L199.28,659.29 L199.45,657.28 L199.65,656.42 L199.85,657.17 L200.06,658.82 L200.27,660.47 L200.48,661.22 L200.68,660.44 L200.88,658.73 L201.09,657.02 L201.30,656.24 L201.50,656.86 L201.72,658.23 L201.93,659.60 L202.12,660.22 L202.35,659.12 L202.55,656.72 L202.74,654.32 L202.95,653.23 L203.15,654.04 L203.37,655.81 L203.58,657.59 L203.77,658.39 L204.01,656.84 L204.22,653.44 L204.41,650.04 L204.60,648.50 L204.80,650.35 L204.97,654.43 L205.16,658.50 L205.38,660.36 L205.57,659.47 L205.78,657.49 L205.98,655.52 L206.17,654.63 L206.39,656.65 L206.58,661.10 L206.76,665.55 L206.95,667.57 L207.14,666.03 L207.34,662.63 L207.54,659.24 L207.73,657.69 L207.91,659.24 L208.07,662.85 L208.25,666.97 L208.52,670.05 L208.76,671.45 L209.03,672.62 L209.30,673.10 L209.57,672.50 L209.82,671.12 L210.06,669.61 L210.28,667.71 L210.47,665.41 L210.64,663.47 L210.82,662.65 L211.02,664.07 L211.21,667.20 L211.40,670.33 L211.58,671.75 L211.76,670.00 L211.93,666.16 L212.11,662.32 L212.34,660.56 L212.51,661.00 L212.71,662.08 L212.90,663.41 L213.10,664.60 L213.36,666.18 L213.62,667.75 L213.85,668.45 L214.07,666.56 L214.22,662.41 L214.37,658.26 L214.60,656.37 L214.90,657.79 L215.26,660.92 L215.62,664.05 L215.93,665.46 L216.21,663.42 L216.42,658.92 L216.62,654.43 L216.88,652.38 L217.21,654.35 L217.58,658.67 L217.95,662.99 L218.27,664.96 L218.47,663.53 L218.63,660.39 L218.80,657.24 L219.04,655.81 L219.36,656.97 L219.73,659.55 L220.11,662.14 L220.46,663.30 L220.83,661.55 L221.16,657.72 L221.47,653.89 L221.77,652.16 L222.05,653.93 L222.31,657.84 L222.56,661.74 L222.83,663.52 L223.09,662.12 L223.36,659.04 L223.62,655.96 L223.87,654.56 L224.10,656.21 L224.30,659.83 L224.49,663.45 L224.72,665.09 L224.97,663.43 L225.25,659.76 L225.53,656.10 L225.82,654.44 L226.13,656.53 L226.46,661.14 L226.78,665.75 L227.10,667.85 L227.37,665.93 L227.62,661.72 L227.89,657.49 L228.22,655.56 L228.55,656.68 L228.92,659.14 L229.30,661.61 L229.65,662.73 L229.96,661.65 L230.27,659.28 L230.55,656.92 L230.81,655.85 L231.05,657.03 L231.25,659.63 L231.44,662.23 L231.66,663.41 L231.93,662.11 L232.22,659.24 L232.51,656.36 L232.79,655.06 L233.10,656.72 L233.39,660.37 L233.67,664.01 L233.93,665.67 L234.14,664.14 L234.33,660.79 L234.52,657.44 L234.73,655.92 L234.92,656.83 L235.10,659.06 L235.34,661.82 L235.71,664.31 L236.35,666.93 L237.18,669.82 L237.99,672.16 L238.60,673.10 L238.86,672.62 L239.03,671.47 L239.16,669.97 L239.30,668.46 L239.50,665.60 L239.67,662.06 L239.82,659.05 L240.00,657.78 L240.17,658.88 L240.34,661.29 L240.52,663.71 L240.70,664.81 L240.87,663.75 L241.05,661.41 L241.22,659.06 L241.40,658.00 L241.59,659.09 L241.78,661.49 L241.98,663.89 L242.16,664.98 L242.36,663.36 L242.54,659.81 L242.72,656.26 L242.92,654.65 L243.10,655.68 L243.29,657.96 L243.49,660.23 L243.68,661.27 L243.82,660.25 L243.91,657.95 L244.08,655.55 L244.44,654.20 L245.20,654.20 L245.50,655.05 L245.69,656.52 L245.84,657.90 L246.01,658.52 L246.28,657.69 L246.56,656.13 L246.83,655.29 L247.03,655.91 L247.22,657.26 L247.42,658.62 L247.64,659.25 L248.05,658.21 L248.46,657.16 L248.74,658.07 L248.99,659.73 L249.27,660.64 L249.68,659.54 L250.09,658.45 L250.38,659.04 L250.65,660.36 L250.90,661.80 L251.11,663.43 L251.30,665.37 L251.47,666.99 L251.64,667.67 L251.84,666.40 L252.02,663.61 L252.20,660.82 L252.38,659.56 L252.57,660.97 L252.75,664.08 L252.93,667.18 L253.12,668.60 L253.30,667.43 L253.49,664.86 L253.68,662.29 L253.86,661.12 L254.03,662.99 L254.17,667.10 L254.33,671.21 L254.60,673.10 L255.00,672.11 L255.41,670.33 L255.63,669.15 L255.84,667.77 L256.03,666.62 L256.23,666.14 L256.44,666.87 L256.64,668.46 L256.85,670.05 L257.04,670.78 L257.25,669.88 L257.45,667.93 L257.65,665.97 L257.86,665.08 L258.06,665.77 L258.27,667.28 L258.47,668.79 L258.67,669.48 L258.87,668.53 L259.05,666.46 L259.24,664.37 L259.49,663.41 L259.89,664.15 L260.30,665.50 L260.60,666.83 L260.88,668.26 L261.15,668.92 L261.37,668.25 L261.59,666.78 L261.80,665.30 L262.00,664.64 L262.19,665.48 L262.36,667.20 L262.62,668.57 L263.24,669.36 L263.51,668.23 L263.68,665.86 L263.84,663.51 L264.07,662.43 L264.35,663.13 L264.66,664.69 L264.99,666.26 L265.30,666.97 L265.61,666.20 L265.91,664.51 L266.21,662.83 L266.49,662.07 L266.76,662.88 L267.01,664.65 L267.25,666.41 L267.47,667.21 L267.71,665.94 L267.92,663.16 L268.12,660.38 L268.34,659.12 L268.57,660.42 L268.81,663.28 L269.05,666.15 L269.31,667.45 L269.55,666.34 L269.79,663.89 L270.05,661.44 L270.34,660.32 L270.62,661.18 L270.92,663.08 L271.23,664.99 L271.51,665.84 L271.87,664.21 L272.21,660.65 L272.52,657.09 L272.81,655.47 L273.03,656.65 L273.23,659.26 L273.42,661.86 L273.60,663.05 L273.78,661.56 L273.94,658.29 L274.11,655.02 L274.33,653.53 L274.55,654.56 L274.81,656.82 L275.07,659.08 L275.34,660.11 L275.65,658.66 L275.96,655.46 L276.27,652.27 L276.59,650.81 L276.85,651.75 L277.11,653.82 L277.37,655.88 L277.60,656.81 L277.86,654.93 L278.06,650.80 L278.25,646.67 L278.44,644.79 L278.65,646.61 L278.86,650.61 L279.06,654.62 L279.26,656.43 L279.47,654.35 L279.68,649.78 L279.89,645.20 L280.08,643.12 L280.27,645.27 L280.44,650.00 L280.61,654.73 L280.78,656.88 L280.97,654.22 L281.15,648.35 L281.34,642.48 L281.58,639.81 L281.85,642.14 L282.16,647.29 L282.49,652.43 L282.80,654.77 L283.10,652.52 L283.40,647.56 L283.70,642.60 L284.01,640.34 L284.30,642.03 L284.59,645.74 L284.88,649.44 L285.16,651.13 L285.43,649.01 L285.67,644.36 L285.91,639.71 L286.18,637.59 L286.48,639.48 L286.80,643.64 L287.11,647.79 L287.40,649.68 L287.70,647.07 L287.96,641.33 L288.21,635.60 L288.46,632.99 L288.70,635.13 L288.93,639.82 L289.17,644.51 L289.40,646.64 L289.60,644.93 L289.79,641.18 L289.99,637.42 L290.19,635.71 L290.42,638.00 L290.64,643.04 L290.88,648.08 L291.11,650.37 L291.37,647.82 L291.64,642.22 L291.90,636.62 L292.17,634.07 L292.45,636.82 L292.73,642.87 L293.00,648.91 L293.25,651.66 L293.47,648.47 L293.66,641.45 L293.84,634.43 L294.04,631.24 L294.24,633.87 L294.46,639.65 L294.67,645.44 L294.89,648.07 L295.08,645.79 L295.26,640.77 L295.45,635.75 L295.64,633.47 L295.85,635.86 L296.05,641.13 L296.26,646.39 L296.47,648.78 L296.68,646.15 L296.88,640.36 L297.10,634.57 L297.35,631.93 L297.60,633.70 L297.87,637.61 L298.16,641.52 L298.45,643.30 L298.75,641.58 L299.05,637.80 L299.36,634.02 L299.66,632.31 L299.99,634.64 L300.32,639.77 L300.63,644.90 L300.90,647.23 L301.14,644.03 L301.31,637.00 L301.47,629.97 L301.69,626.77 L301.98,630.05 L302.31,637.26 L302.64,644.47 L302.94,647.75 L303.16,645.33 L303.35,640.00 L303.54,634.68 L303.75,632.26 L304.01,634.79 L304.29,640.37 L304.58,645.95 L304.84,648.49 L305.09,645.38 L305.32,638.55 L305.54,631.73 L305.76,628.62 L305.96,631.10 L306.16,636.56 L306.37,642.01 L306.61,644.49 L306.89,641.84 L307.21,636.00 L307.53,630.16 L307.83,627.51 L308.10,630.13 L308.36,635.89 L308.61,641.64 L308.86,644.26 L309.16,640.47 L309.45,632.13 L309.73,623.79 L310.01,620.00 L310.24,622.71 L310.47,628.66 L310.70,634.61 L310.93,637.32 L311.12,635.66 L311.32,632.03 L311.51,628.40 L311.71,626.74 L311.97,629.72 L312.23,636.27 L312.51,642.81 L312.80,645.79 L313.05,644.10 L313.32,640.37 L313.58,636.64 L313.82,634.94 L314.07,637.74 L314.29,643.90 L314.50,650.05 L314.72,652.84 L315.00,649.20 L315.28,641.20 L315.56,633.19 L315.83,629.55 L316.09,633.13 L316.34,640.99 L316.59,648.85 L316.85,652.42 L317.14,647.70 L317.44,637.32 L317.75,626.95 L318.09,622.23 L318.39,625.19 L318.70,631.70 L319.02,638.22 L319.35,641.19 L319.64,639.18 L319.95,634.78 L320.24,630.37 L320.50,628.37 L320.74,631.20 L320.91,637.43 L321.08,643.66 L321.28,646.49 L321.56,643.11 L321.87,635.68 L322.18,628.24 L322.47,624.86 L322.76,629.08 L323.02,638.36 L323.28,647.64 L323.55,651.85 L323.80,648.83 L324.05,642.17 L324.31,635.51 L324.56,632.49 L324.77,635.00 L324.98,640.52 L325.19,646.04 L325.39,648.55 L325.63,645.42 L325.86,638.52 L326.09,631.62 L326.31,628.48 L326.55,632.93 L326.77,642.71 L326.99,652.48 L327.22,656.93 L327.47,652.74 L327.74,643.53 L328.01,634.32 L328.26,630.14 L328.49,634.67 L328.69,644.64 L328.90,654.62 L329.13,659.15 L329.35,655.71 L329.59,648.14 L329.84,640.56 L330.09,637.12 L330.34,640.18 L330.58,646.91 L330.84,653.64 L331.10,656.70 L331.40,653.29 L331.71,645.76 L332.03,638.24 L332.34,634.82 L332.60,637.53 L332.86,643.48 L333.12,649.44 L333.39,652.15 L333.68,649.05 L333.98,642.24 L334.29,635.42 L334.62,632.32 L334.92,634.78 L335.25,640.18 L335.57,645.58 L335.87,648.03 L336.12,645.74 L336.35,640.71 L336.58,635.68 L336.83,633.39 L337.13,636.28 L337.45,642.65 L337.78,649.01 L338.10,651.90 L338.40,649.23 L338.70,643.34 L339.00,637.45 L339.28,634.77 L339.58,638.09 L339.86,645.39 L340.13,652.70 L340.41,656.01 L340.73,652.13 L341.07,643.58 L341.39,635.02 L341.69,631.14 L341.95,634.42 L342.19,641.64 L342.42,648.86 L342.63,652.15 L342.83,648.63 L342.99,640.88 L343.16,633.14 L343.36,629.62 L343.66,634.13 L343.99,644.06 L344.32,653.99 L344.61,658.50 L344.83,654.48 L345.00,645.62 L345.18,636.77 L345.38,632.74 L345.61,636.11 L345.86,643.51 L346.11,650.91 L346.37,654.27 L346.63,650.33 L346.90,641.65 L347.17,632.97 L347.46,629.03 L347.77,632.43 L348.09,639.92 L348.42,647.41 L348.74,650.81 L349.02,647.99 L349.29,641.77 L349.56,635.56 L349.82,632.74 L350.02,634.86 L350.22,639.52 L350.41,644.19 L350.63,646.31 L350.85,644.49 L351.09,640.47 L351.33,636.45 L351.58,634.63 L351.88,637.20 L352.19,642.86 L352.49,648.52 L352.76,651.08 L352.97,648.71 L353.15,643.49 L353.33,638.26 L353.53,635.89 L353.81,638.60 L354.11,644.55 L354.42,650.51 L354.71,653.22 L354.98,650.33 L355.24,643.96 L355.49,637.59 L355.73,634.70 L355.92,636.56 L356.11,640.65 L356.29,644.74 L356.46,646.60 L356.65,643.40 L356.82,636.37 L356.99,629.34 L357.17,626.15 L357.37,629.69 L357.57,637.47 L357.78,645.26 L358.02,648.80 L358.26,645.87 L358.53,639.43 L358.80,632.99 L359.06,630.06 L359.32,633.56 L359.57,641.25 L359.83,648.93 L360.11,652.43 L360.38,649.86 L360.67,644.20 L360.96,638.54 L361.22,635.96 L361.47,639.67 L361.67,647.81 L361.87,655.95 L362.10,659.65 L362.34,656.80 L362.60,650.54 L362.86,644.27 L363.13,641.42 L363.40,644.57 L363.68,651.51 L363.96,658.44 L364.22,661.59 L364.44,659.14 L364.65,653.74 L364.85,648.34 L365.04,645.89 L365.22,649.26 L365.37,656.69 L365.53,664.12 L365.76,667.50 L366.05,664.77 L366.39,658.77 L366.74,652.77 L367.04,650.04 L367.24,652.02 L367.42,656.37 L367.59,660.72 L367.77,662.70 L367.98,659.89 L368.20,653.73 L368.42,647.56 L368.66,644.76 L368.92,647.69 L369.19,654.13 L369.46,660.57 L369.73,663.50 L369.95,661.41 L370.15,656.81 L370.37,652.21 L370.62,650.11 L370.88,651.91 L371.16,655.88 L371.47,659.85 L371.80,661.67 L372.08,660.68 L372.39,658.51 L372.70,656.34 L372.96,655.35 L373.22,657.14 L373.41,661.03 L373.58,664.92 L373.78,666.69 L374.04,664.57 L374.33,659.89 L374.61,655.22 L374.86,653.10 L375.07,655.25 L375.25,659.97 L375.42,664.70 L375.62,666.84 L375.85,664.25 L376.08,658.52 L376.36,652.79 L376.70,650.18 L376.97,651.23 L377.28,653.55 L377.60,655.87 L377.88,656.92 L378.19,655.01 L378.45,650.84 L378.71,646.67 L379.01,644.77 L379.32,645.97 L379.65,648.62 L379.97,651.28 L380.25,652.48 L380.48,650.97 L380.65,647.68 L380.80,644.39 L380.97,642.89 L381.16,644.66 L381.35,648.56 L381.56,652.46 L381.79,654.24 L382.09,652.33 L382.43,648.13 L382.76,643.93 L383.06,642.03 L383.29,643.78 L383.48,647.64 L383.68,651.49 L383.91,653.25 L384.21,651.41 L384.54,647.38 L384.87,643.34 L385.20,641.50 L385.49,643.27 L385.76,647.15 L386.05,651.04 L386.37,652.81 L386.65,651.84 L386.95,649.70 L387.26,647.55 L387.55,646.58 L387.82,647.60 L388.07,649.96 L388.34,652.66 L388.72,654.67 L389.31,655.70 L389.90,656.70 L390.27,658.31 L390.56,660.39 L390.82,662.20 L391.07,662.96 L391.40,661.11 L391.69,657.06 L391.97,653.02 L392.25,651.19 L392.49,652.79 L392.69,656.48 L392.97,660.59 L393.43,663.43 L394.00,664.67 L394.60,665.20 L395.03,664.56 L395.41,663.19 L395.78,661.76 L396.08,660.43 L396.36,658.90 L396.65,657.63 L396.95,657.10 L397.33,657.95 L397.73,659.55 L398.12,660.40 L398.50,659.46 L398.87,657.69 L399.30,656.70 L399.89,657.54 L400.48,658.36 L400.83,657.42 L401.10,655.46 L401.35,653.52 L401.65,652.63 L402.03,653.48 L402.44,655.08 L402.83,655.93 L403.11,655.17 L403.35,653.52 L403.63,651.84 L404.00,651.00 L405.27,652.24 L405.66,651.34 L405.91,649.48 L406.16,647.41 L406.53,645.88 L407.80,644.40 L408.22,645.78 L408.48,648.62 L408.69,651.42 L408.94,652.69 L409.22,651.71 L409.51,649.56 L409.80,647.41 L410.08,646.43 L410.36,647.53 L410.64,649.95 L410.92,652.37 L411.22,653.47 L411.50,652.73 L411.79,651.09 L412.09,649.45 L412.36,648.71 L412.60,649.95 L412.75,652.67 L413.00,655.40 L413.50,656.70 L415.12,653.80 L417.44,647.25 L419.91,640.69 L422.00,637.80 L423.54,641.52 L424.71,649.51 L425.93,657.54 L427.60,661.40 L429.32,660.06 L431.28,656.61 L433.30,652.70 L435.20,650.00 L436.18,649.39 L437.15,649.07 L438.09,648.77 L439.00,648.20 L440.20,646.40 L441.29,643.93 L442.41,641.69 L443.70,640.60 L445.27,640.97 L447.02,642.26 L448.77,644.16 L450.30,646.30 L452.10,651.42 L453.43,658.29 L454.62,664.34 L456.00,667.00 L457.29,665.03 L458.61,660.56 L460.02,656.01 L461.60,653.80 L463.10,654.90 L464.70,657.64 L466.42,660.58 L468.30,662.30 L470.07,662.26 L471.98,661.47 L473.92,660.55 L475.80,660.10 L477.46,660.34 L479.09,660.91 L480.72,661.52 L482.40,661.90 L484.24,661.96 L486.11,661.84 L488.03,661.63 L490.00,661.40 L492.39,661.00 L494.92,660.46 L497.35,660.06 L499.40,660.10 L500.52,660.40 L501.50,660.84 L502.37,661.47 L503.20,662.30 L504.30,664.27 L505.21,666.89 L506.06,669.59 L507.00,671.80 L507.72,672.84 L508.45,673.66 L509.21,674.49 L510.00,675.50 L511.31,678.01 L512.73,681.20 L514.15,683.92 L515.50,685.00 L516.91,682.73 L518.16,677.74 L519.52,672.36 L521.30,668.90 L522.61,668.26 L524.05,668.12 L525.54,668.15 L527.00,668.00 L528.50,667.74 L530.05,667.49 L531.49,667.02 L532.70,666.10 L534.01,662.27 L534.65,656.56 L535.01,651.36 L535.50,649.10 L536.16,652.05 L536.77,658.53 L537.45,665.02 L538.30,668.00 L539.54,664.51 L541.01,656.75 L542.54,648.94 L544.00,645.30 L544.71,646.16 L545.42,648.14 L546.12,650.13 L546.80,651.00 L547.77,648.89 L548.71,644.37 L549.64,639.86 L550.60,637.80 L551.43,639.23 L552.20,642.57 L553.12,646.35 L554.40,649.10 L555.61,650.22 L557.00,651.06 L558.49,651.62 L560.00,651.90 L561.64,651.70 L563.37,651.05 L565.09,650.35 L566.70,650.00 L567.96,649.98 L569.18,650.06 L570.34,650.37 L571.40,651.00 L572.73,653.40 L573.73,657.01 L574.74,660.44 L576.10,662.30 L577.38,662.08 L578.79,661.02 L580.29,659.91 L581.80,659.50 L583.89,660.76 L586.10,663.21 L588.27,665.68 L590.30,667.00 L591.52,666.84 L592.68,666.19 L593.82,665.49 L595.00,665.20 L596.45,665.78 L597.96,666.92 L599.42,667.90 L600.70,668.00 L602.52,663.06 L603.54,653.76 L604.31,644.74 L605.40,640.60 L606.24,641.99 L607.08,645.17 L608.04,648.42 L609.20,650.00 L610.77,648.54 L612.57,645.08 L614.56,641.50 L616.70,639.70 L619.23,640.93 L622.05,643.97 L624.80,647.00 L627.10,648.20 L628.54,646.85 L629.73,644.22 L630.78,641.69 L631.80,640.60 L632.81,642.12 L633.71,645.35 L634.60,648.56 L635.60,650.00 L637.29,646.96 L639.16,640.26 L641.12,633.48 L643.10,630.20 L644.27,630.91 L645.46,632.75 L646.66,634.75 L647.90,635.90 L649.12,635.71 L650.36,635.06 L651.60,634.90 L653.03,636.19 L654.44,638.47 L655.86,640.87 L657.30,642.50 L658.60,643.22 L659.91,643.59 L661.10,643.40 L662.24,641.70 L663.19,638.79 L664.05,636.06 L664.90,634.90 L666.07,638.15 L667.07,645.16 L668.16,652.25 L669.60,655.70 L670.66,655.20 L671.81,653.66 L673.04,651.71 L674.30,650.00 L675.64,648.33 L677.02,646.53 L678.47,645.06 L680.00,644.40 L681.85,645.29 L683.87,647.35 L685.82,649.34 L687.50,650.00 L689.01,647.81 L690.18,643.64 L691.18,639.60 L692.20,637.80 L693.17,639.56 L694.06,643.40 L694.97,647.27 L696.00,649.10 L696.91,648.33 L697.87,646.38 L698.89,644.15 L700.00,642.50 L700.91,641.70 L701.88,641.00 L702.86,640.58 L703.80,640.60 L705.24,642.61 L706.57,646.37 L707.91,650.08 L709.40,651.90 L710.72,651.24 L712.11,649.46 L713.57,647.50 L715.10,646.30 L716.47,646.11 L717.90,646.28 L719.35,646.70 L720.80,647.20 L722.46,648.13 L724.14,649.42 L725.80,650.55 L727.40,651.00 L728.87,650.34 L730.30,648.98 L731.68,647.68 L733.00,647.20 L734.28,647.83 L735.48,649.16 L736.64,650.94 L737.80,652.90 L739.72,657.67 L741.60,663.93 L743.46,669.41 L745.30,671.80 L746.72,670.65 L748.10,667.72 L749.51,663.98 L751.00,660.40 L753.09,655.34 L755.34,649.39 L757.55,644.46 L759.50,642.50 L761.17,644.98 L762.56,650.75 L763.85,657.82 L765.20,664.20 L766.53,669.76 L767.81,675.50 L769.18,680.79 L770.80,685.00 L771.94,687.08 L773.18,688.99 L774.41,690.34 L775.50,690.70 L777.01,686.06 L777.99,676.47 L778.92,666.89 L780.30,662.30 L781.14,662.91 L782.04,664.51 L783.00,666.19 L784.00,667.00 L785.20,666.34 L786.52,664.78 L787.78,663.16 L788.80,662.30 L790.00,662.70 L790.31,663.85 L790.46,664.70 L790.63,663.70 L790.77,661.83 L790.92,660.83 L791.03,661.54 L791.14,663.09 L791.26,664.64 L791.38,665.35 L791.52,664.50 L791.68,662.94 L791.83,662.10 L791.99,663.09 L792.14,664.92 L792.29,665.91 L792.45,664.94 L792.60,663.12 L792.75,662.15 L792.87,663.01 L792.98,664.90 L793.09,666.79 L793.21,667.65 L793.36,666.66 L793.51,664.83 L793.67,663.84 L793.78,664.47 L793.89,665.88 L794.01,667.28 L794.12,667.91 L794.28,666.99 L794.43,665.28 L794.58,664.36 L794.69,665.01 L794.80,666.45 L794.91,667.89 L795.04,668.55 L795.50,666.80 L795.75,668.17 L795.98,669.52 L796.15,668.70 L796.31,667.17 L796.46,666.35 L796.59,667.09 L796.70,668.71 L796.82,670.32 L796.94,671.06 L797.10,670.06 L797.26,668.21 L797.42,667.21 L797.54,667.89 L797.66,669.39 L797.77,670.89 L797.90,671.58 L798.14,670.10 L798.38,668.62 L798.54,669.51 L798.70,671.16 L798.86,672.05 L799.10,670.79 L799.34,669.53 L799.46,670.17 L799.56,671.57 L799.67,672.98 L799.82,673.63 L800.30,672.30 L800.48,673.20 L800.62,674.86 L800.76,675.74 L800.88,675.02 L800.99,673.44 L801.11,671.86 L801.22,671.14 L801.33,671.99 L801.44,673.87 L801.55,675.74 L801.67,676.60 L801.82,675.73 L801.98,674.10 L802.13,673.23 L802.25,674.03 L802.37,675.79 L802.48,677.54 L802.59,678.34 L802.70,677.69 L802.82,676.24 L802.94,674.80 L803.05,674.15 L803.17,674.96 L803.28,676.76 L803.39,678.55 L803.51,679.36 L803.66,678.42 L803.82,676.67 L803.97,675.72 L804.09,676.54 L804.19,678.33 L804.30,680.12 L804.42,680.93 L804.58,680.04 L804.73,678.38 L804.88,677.48 L805.00,678.33 L805.09,680.18 L805.20,682.04 L805.34,682.89 L805.80,681.20 L806.29,682.13 L806.47,681.22 L806.58,679.29 L806.66,677.36 L806.77,676.49 L806.93,677.42 L807.10,679.14 L807.26,680.06 L807.38,679.29 L807.48,677.59 L807.59,675.89 L807.74,675.11 L808.23,676.80 L808.35,676.15 L808.42,674.72 L808.52,673.28 L808.71,672.56 L809.20,673.00 L809.64,673.50 L809.81,672.74 L809.90,671.17 L809.97,669.62 L810.08,668.92 L810.29,669.89 L810.51,670.87 L810.64,670.18 L810.74,668.68 L810.84,667.18 L810.95,666.50 L811.17,667.87 L811.39,669.24 L811.51,668.29 L811.61,666.20 L811.71,664.11 L811.83,663.16 L811.96,664.02 L812.11,665.62 L812.26,666.49 L812.41,665.69 L812.55,664.20 L812.70,663.40 L812.86,664.21 L813.02,665.73 L813.18,666.54 L813.43,665.21 L813.66,663.88 L813.79,664.75 L813.91,666.66 L814.02,668.57 L814.14,669.44 L814.30,668.50 L814.46,666.76 L814.62,665.82 L814.75,666.83 L814.86,669.04 L814.97,671.26 L815.10,672.27 L815.26,671.38 L815.42,669.74 L815.58,668.85 L815.71,669.72 L815.82,671.63 L815.93,673.53 L816.06,674.40 L816.22,673.61 L816.38,672.15 L816.54,671.36 L816.66,672.24 L816.75,674.18 L816.86,676.12 L817.02,677.02 L817.50,675.70 L817.96,676.06 L818.17,675.09 L818.27,673.14 L818.32,671.22 L818.41,670.35 L818.56,671.22 L818.72,672.84 L818.87,673.71 L818.99,672.79 L819.09,670.76 L819.20,668.74 L819.32,667.82 L819.47,668.65 L819.63,670.19 L819.78,671.02 L819.90,670.18 L820.00,668.34 L820.11,666.50 L820.23,665.66 L820.46,666.94 L820.69,668.23 L820.78,667.49 L820.83,665.87 L820.92,664.19 L821.14,663.30 L821.60,663.40 L821.84,664.55 L821.94,666.28 L822.08,667.19 L822.56,665.92 L822.73,666.96 L822.82,669.20 L822.91,671.44 L823.04,672.46 L823.28,671.31 L823.52,670.15 L823.65,671.14 L823.74,673.31 L823.84,675.47 L824.00,676.48 L824.48,675.20 L824.64,676.25 L824.74,678.51 L824.82,680.76 L824.96,681.80 L825.20,680.80 L825.44,679.80 L825.55,680.85 L825.58,683.16 L825.66,685.54 L825.92,686.79 L826.40,686.70 L826.89,685.41 L827.04,683.58 L827.11,681.01 L827.18,678.69 L827.37,677.65 L827.86,678.50 L828.03,677.27 L828.08,674.63 L828.14,671.99 L828.34,670.72 L828.83,671.30 L829.04,670.30 L829.11,668.11 L829.17,665.68 L829.31,663.95 L829.80,662.70 L830.22,662.84 L830.45,661.75 L830.52,659.63 L830.55,657.57 L830.64,656.63 L830.85,657.76 L831.06,658.89 L831.15,657.75 L831.18,655.26 L831.25,652.72 L831.48,651.45 L831.90,651.70 L832.11,652.69 L832.21,654.31 L832.28,655.82 L832.39,656.49 L832.63,655.25 L832.87,654.00 L833.00,654.92 L833.10,656.94 L833.21,658.96 L833.36,659.89 L833.84,658.16 L833.97,658.99 L834.06,660.79 L834.15,662.60 L834.33,663.45 L834.81,662.62 L834.98,663.48 L835.07,665.07 L835.30,666.10 L835.77,666.09 L836.01,664.95 L836.10,662.87 L836.14,660.88 L836.23,659.98 L836.47,661.22 L836.70,662.46 L836.83,661.56 L836.93,659.59 L837.03,657.61 L837.17,656.71 L837.40,657.89 L837.63,659.07 L837.76,658.29 L837.85,656.58 L837.95,654.87 L838.10,654.07 L838.57,655.48 L838.70,654.58 L838.76,652.62 L838.85,650.65 L839.03,649.71 L839.50,650.30 L839.77,651.95 L839.96,653.17 L840.11,652.26 L840.27,650.57 L840.41,649.66 L840.53,650.44 L840.64,652.15 L840.75,653.86 L840.87,654.63 L841.01,653.84 L841.17,652.37 L841.32,651.58 L841.44,652.31 L841.55,653.90 L841.66,655.49 L841.78,656.22 L841.89,655.59 L842.01,654.21 L842.12,652.83 L842.23,652.21 L842.35,653.01 L842.46,654.78 L842.57,656.54 L842.69,657.35 L842.83,656.48 L842.99,654.87 L843.14,654.01 L843.30,654.58 L843.46,655.87 L843.60,657.20 L843.70,658.40 L843.77,659.78 L843.87,660.91 L844.00,661.40 L844.40,660.43 L844.53,661.25 L844.58,663.08 L844.64,665.08 L844.80,666.40 L845.20,667.00 L845.60,668.81 L845.73,667.73 L845.83,665.38 L845.91,663.03 L846.00,661.97 L846.10,662.97 L846.20,665.19 L846.30,667.41 L846.40,668.41 L846.50,667.50 L846.59,665.50 L846.69,663.50 L846.80,662.59 L846.90,663.23 L847.00,664.63 L847.10,666.04 L847.20,666.68 L847.30,665.92 L847.40,664.27 L847.50,662.62 L847.60,661.87 L847.70,662.54 L847.80,664.01 L847.90,665.49 L848.00,666.16 L848.11,665.22 L848.20,663.15 L848.30,661.09 L848.40,660.15 L848.50,661.06 L848.60,663.07 L848.70,665.09 L848.80,666.00 L848.90,664.75 L849.00,662.00 L849.10,659.24 L849.20,657.99 L849.30,659.19 L849.40,661.82 L849.50,664.44 L849.60,665.64 L849.69,664.54 L849.77,662.11 L849.87,659.69 L850.00,658.58 L850.20,659.30 L850.40,660.70 L850.52,662.35 L850.61,664.47 L850.69,666.29 L850.79,667.07 L850.88,666.38 L850.98,664.86 L851.08,663.33 L851.17,662.64 L851.28,664.10 L851.36,667.31 L851.45,670.51 L851.56,671.98 L851.69,671.14 L851.83,669.59 L851.95,668.76 L852.07,670.29 L852.15,673.66 L852.23,677.03 L852.34,678.57 L852.46,677.61 L852.60,675.84 L852.73,674.88 L852.79,676.25 L852.79,679.33 L852.86,682.56 L853.11,684.39 L853.50,684.60 L853.89,683.60 L854.05,681.18 L854.09,677.49 L854.12,674.11 L854.27,672.61 L854.66,673.68 L854.83,672.03 L854.90,668.45 L854.95,664.88 L855.05,663.25 L855.17,664.06 L855.31,665.56 L855.44,666.37 L855.55,664.59 L855.60,660.70 L855.68,656.80 L855.83,655.01 L856.21,656.63 L856.35,655.47 L856.43,652.96 L856.51,650.44 L856.60,649.30 L856.72,650.29 L856.86,652.12 L856.98,653.11 L857.09,651.97 L857.18,649.48 L857.27,646.98 L857.36,645.85 L857.46,646.87 L857.55,649.13 L857.65,651.38 L857.75,652.40 L857.84,651.28 L857.93,648.80 L858.03,646.32 L858.13,645.19 L858.22,646.07 L858.32,647.98 L858.41,649.90 L858.51,650.78 L858.60,649.83 L858.70,647.76 L858.79,645.69 L858.89,644.75 L858.98,645.50 L859.08,647.15 L859.18,648.80 L859.27,649.55 L859.37,648.74 L859.46,646.96 L859.56,645.17 L859.65,644.36 L859.75,645.14 L859.85,646.85 L859.94,648.57 L860.04,649.35 L860.13,648.55 L860.21,646.80 L860.30,645.05 L860.42,644.25 L860.80,646.20 L861.01,647.89 L861.19,648.95 L861.31,647.89 L861.40,645.57 L861.49,643.25 L861.59,642.19 L861.68,642.93 L861.78,644.54 L861.88,646.15 L861.98,646.89 L862.08,646.10 L862.18,644.35 L862.28,642.61 L862.38,641.82 L862.48,642.75 L862.58,644.80 L862.67,646.86 L862.77,647.79 L862.87,646.71 L862.96,644.34 L863.06,641.97 L863.16,640.89 L863.26,641.64 L863.36,643.28 L863.46,644.92 L863.56,645.67 L863.66,644.50 L863.76,641.93 L863.85,639.36 L863.95,638.20 L864.05,639.13 L864.15,641.17 L864.25,643.21 L864.35,644.14 L864.45,643.24 L864.54,641.25 L864.64,639.26 L864.74,638.36 L864.84,639.33 L864.94,641.48 L865.04,643.63 L865.14,644.61 L865.23,643.61 L865.32,641.41 L865.42,639.20 L865.53,638.20 L865.66,639.21 L865.80,641.09 L865.92,642.10 L866.03,641.03 L866.13,638.70 L866.22,636.37 L866.32,635.31 L866.42,636.42 L866.51,638.86 L866.61,641.30 L866.71,642.41 L866.80,641.37 L866.88,639.08 L866.98,636.79 L867.11,635.74 L867.30,636.51 L867.50,637.90 L867.64,639.39 L867.76,641.01 L867.88,641.77 L867.98,640.99 L868.08,639.28 L868.17,637.57 L868.26,636.80 L868.36,637.95 L868.46,640.48 L868.55,643.00 L868.64,644.15 L868.73,643.01 L868.83,640.50 L868.92,637.99 L869.02,636.85 L869.11,637.96 L869.20,640.40 L869.30,642.84 L869.40,643.95 L869.49,643.22 L869.59,641.60 L869.69,639.99 L869.78,639.26 L869.88,640.27 L869.97,642.48 L870.06,644.70 L870.16,645.71 L870.25,644.98 L870.35,643.37 L870.45,641.76 L870.54,641.03 L870.64,642.18 L870.74,644.71 L870.83,647.25 L870.92,648.40 L871.01,647.38 L871.11,645.15 L871.21,642.92 L871.30,641.90 L871.39,642.97 L871.48,645.33 L871.58,647.69 L871.68,648.76 L871.77,648.05 L871.87,646.49 L871.97,644.93 L872.06,644.22 L872.16,645.25 L872.25,647.50 L872.34,649.75 L872.44,650.77 L872.53,649.97 L872.62,648.20 L872.72,646.43 L872.82,645.63 L872.94,646.30 L873.07,647.78 L873.20,649.30 L873.30,650.54 L873.40,651.93 L873.50,653.07 L873.59,653.54 L873.70,652.52 L873.80,650.26 L873.89,648.00 L873.99,646.97 L874.09,648.11 L874.18,650.61 L874.28,653.10 L874.38,654.24 L874.48,653.44 L874.58,651.68 L874.68,649.92 L874.78,649.12 L874.87,650.06 L874.97,652.11 L875.07,654.17 L875.17,655.10 L875.27,654.42 L875.37,652.90 L875.47,651.39 L875.56,650.70 L875.67,651.90 L875.77,654.54 L875.86,657.18 L875.96,658.38 L876.05,657.36 L876.15,655.11 L876.25,652.87 L876.35,651.85 L876.45,652.96 L876.55,655.41 L876.64,657.87 L876.74,658.98 L876.84,658.06 L876.94,656.02 L877.04,653.98 L877.14,653.05 L877.24,654.21 L877.34,656.74 L877.43,659.28 L877.53,660.43 L877.63,659.43 L877.73,657.24 L877.83,655.06 L877.92,654.06 L878.02,655.18 L878.12,657.63 L878.21,660.09 L878.32,661.21 L878.41,660.47 L878.52,658.86 L878.62,657.24 L878.71,656.51 L878.81,657.67 L878.90,660.23 L878.99,662.79 L879.11,663.95 L879.23,663.11 L879.37,661.54 L879.50,660.70 L879.63,661.58 L879.76,663.20 L879.87,664.07 L879.98,662.97 L880.07,660.55 L880.15,658.13 L880.24,657.03 L880.33,658.08 L880.43,660.39 L880.52,662.70 L880.61,663.76 L880.71,662.83 L880.80,660.80 L880.89,658.77 L880.99,657.84 L881.08,658.94 L881.17,661.37 L881.26,663.80 L881.36,664.90 L881.45,663.97 L881.54,661.92 L881.64,659.87 L881.73,658.93 L881.82,660.07 L881.91,662.57 L882.01,665.06 L882.10,666.20 L882.19,665.25 L882.28,663.15 L882.38,661.05 L882.47,660.10 L882.56,661.00 L882.66,662.99 L882.75,664.97 L882.84,665.87 L882.94,665.00 L883.03,663.08 L883.12,661.16 L883.21,660.29 L883.31,661.18 L883.40,663.12 L883.49,665.07 L883.59,665.96 L883.68,664.95 L883.77,662.75 L883.87,660.54 L883.96,659.54 L884.04,660.63 L884.13,663.03 L884.22,665.42 L884.33,666.51 L884.52,665.16 L884.70,663.80 L884.80,665.05 L884.84,667.97 L884.88,671.30 L884.95,673.80 L885.05,675.46 L885.20,676.30 L885.60,674.96 L885.76,672.69 L885.85,669.41 L885.91,666.45 L886.00,665.17 L886.10,665.92 L886.20,667.59 L886.31,669.25 L886.40,670.01 L886.50,668.27 L886.58,664.46 L886.67,660.65 L886.80,658.91 L887.00,660.19 L887.20,661.48 L887.32,660.00 L887.40,656.75 L887.48,653.50 L887.60,652.02 L887.80,653.28 L888.00,654.53 L888.09,653.31 L888.13,650.55 L888.20,647.56 L888.40,645.68 L888.80,645.10 L889.03,646.47 L889.19,647.80 L889.32,646.79 L889.45,644.91 L889.57,643.90 L889.68,644.72 L889.77,646.50 L889.86,648.29 L889.96,649.11 L890.06,648.42 L890.16,646.91 L890.26,645.40 L890.35,644.72 L890.45,645.79 L890.55,648.15 L890.64,650.51 L890.74,651.59 L890.83,650.66 L890.93,648.61 L891.03,646.57 L891.12,645.64 L891.22,646.73 L891.31,649.12 L891.40,651.52 L891.51,652.61 L891.63,651.75 L891.75,650.16 L891.90,649.30 L892.27,650.67 L892.39,649.87 L892.48,648.13 L892.56,646.38 L892.64,645.59 L892.77,646.55 L892.89,648.34 L893.01,649.30 L893.12,648.20 L893.21,645.78 L893.30,643.37 L893.39,642.27 L893.48,643.39 L893.57,645.84 L893.66,648.29 L893.76,649.40 L893.85,648.36 L893.94,646.06 L894.03,643.76 L894.13,642.71 L894.22,643.56 L894.32,645.43 L894.41,647.31 L894.50,648.16 L894.59,647.00 L894.68,644.47 L894.77,641.93 L894.87,640.78 L894.96,641.48 L895.06,643.03 L895.15,644.57 L895.24,645.27 L895.34,644.22 L895.43,641.91 L895.52,639.60 L895.61,638.54 L895.71,639.34 L895.80,641.10 L895.90,642.86 L895.99,643.66 L896.08,642.50 L896.17,639.95 L896.26,637.40 L896.36,636.24 L896.44,637.22 L896.53,639.37 L896.63,641.53 L896.73,642.51 L896.85,641.58 L896.97,639.84 L897.10,638.90 L897.23,639.82 L897.37,641.52 L897.50,642.44 L897.61,641.44 L897.71,639.25 L897.80,637.07 L897.90,636.07 L898.00,637.05 L898.10,639.19 L898.20,641.33 L898.30,642.31 L898.40,641.35 L898.50,639.26 L898.60,637.16 L898.70,636.21 L898.80,637.47 L898.90,640.24 L899.00,643.02 L899.10,644.28 L899.20,643.14 L899.30,640.63 L899.40,638.12 L899.50,636.98 L899.60,637.90 L899.70,639.91 L899.80,641.93 L899.90,642.85 L900.00,641.93 L900.10,639.93 L900.20,637.92 L900.30,637.01 L900.40,638.19 L900.50,640.78 L900.60,643.37 L900.70,644.55 L900.80,643.55 L900.90,641.35 L901.00,639.15 L901.10,638.16 L901.20,639.22 L901.30,641.58 L901.40,643.93 L901.50,645.00 L901.59,644.08 L901.69,642.06 L901.79,640.03 L901.90,639.11 L902.09,640.23 L902.30,642.00 L902.50,643.25 L902.69,643.96 L902.82,642.91 L902.91,640.61 L902.99,638.31 L903.08,637.27 L903.18,637.99 L903.28,639.59 L903.38,641.19 L903.47,641.92 L903.58,640.93 L903.67,638.74 L903.77,636.56 L903.87,635.57 L903.96,636.35 L904.06,638.09 L904.16,639.82 L904.26,640.61 L904.36,639.69 L904.46,637.66 L904.55,635.64 L904.65,634.72 L904.75,635.63 L904.85,637.64 L904.95,639.65 L905.04,640.56 L905.14,639.30 L905.24,636.52 L905.33,633.73 L905.43,632.47 L905.53,633.27 L905.63,635.05 L905.73,636.83 L905.82,637.64 L905.93,636.55 L906.03,634.16 L906.12,631.77 L906.22,630.68 L906.31,631.77 L906.41,634.17 L906.50,636.58 L906.61,637.67 L906.70,636.89 L906.80,635.18 L906.90,633.48 L907.00,632.70 L907.10,633.43 L907.20,635.04 L907.30,636.65 L907.39,637.38 L907.50,636.27 L907.59,633.84 L907.69,631.41 L907.78,630.31 L907.88,631.44 L907.98,633.94 L908.07,636.44 L908.17,637.57 L908.27,636.73 L908.37,634.86 L908.47,632.99 L908.57,632.14 L908.67,633.29 L908.76,635.81 L908.86,638.34 L908.96,639.49 L909.05,638.72 L909.15,637.03 L909.25,635.33 L909.35,634.56 L909.45,635.59 L909.55,637.83 L909.64,640.08 L909.74,641.10 L909.84,640.15 L909.94,638.07 L910.04,635.99 L910.13,635.04 L910.23,636.15 L910.33,638.58 L910.43,641.01 L910.53,642.12 L910.62,641.16 L910.72,639.04 L910.82,636.93 L910.92,635.97 L911.00,637.00 L911.08,639.26 L911.17,641.53 L911.31,642.57 L911.70,641.00 L911.91,642.08 L912.09,643.16 L912.21,642.04 L912.31,639.60 L912.39,637.16 L912.48,636.05 L912.57,637.07 L912.67,639.31 L912.76,641.55 L912.86,642.57 L912.96,641.67 L913.05,639.69 L913.15,637.71 L913.25,636.81 L913.34,637.52 L913.44,639.06 L913.54,640.61 L913.64,641.31 L913.74,640.47 L913.83,638.62 L913.93,636.76 L914.03,635.92 L914.12,636.80 L914.21,638.74 L914.31,640.68 L914.41,641.56 L914.53,640.62 L914.66,638.85 L914.80,637.90 L915.00,639.24 L915.20,640.57 L915.30,639.88 L915.40,638.37 L915.50,636.86 L915.59,636.17 L915.69,637.09 L915.79,639.09 L915.88,641.10 L915.99,642.01 L916.08,641.30 L916.18,639.72 L916.29,638.15 L916.38,637.44 L916.49,638.48 L916.59,640.78 L916.68,643.07 L916.78,644.12 L916.88,642.96 L916.98,640.42 L917.08,637.88 L917.17,636.72 L917.27,638.07 L917.37,641.04 L917.46,644.01 L917.57,645.36 L917.66,644.33 L917.76,642.08 L917.86,639.82 L917.96,638.80 L918.06,639.70 L918.15,641.68 L918.25,643.65 L918.36,644.55 L918.45,643.84 L918.56,642.26 L918.66,640.69 L918.75,639.97 L918.86,640.99 L918.95,643.23 L919.05,645.48 L919.15,646.50 L919.25,645.62 L919.35,643.69 L919.45,641.76 L919.54,640.89 L919.64,641.99 L919.74,644.40 L919.84,646.81 L919.94,647.91 L920.04,646.85 L920.14,644.51 L920.24,642.17 L920.33,641.11 L920.43,642.38 L920.53,645.17 L920.63,647.97 L920.73,649.24 L920.82,648.21 L920.92,645.95 L921.02,643.69 L921.12,642.66 L921.22,643.63 L921.32,645.75 L921.42,647.87 L921.52,648.84 L921.62,647.88 L921.72,645.78 L921.82,643.67 L921.91,642.72 L922.02,644.04 L922.11,646.95 L922.21,649.85 L922.31,651.18 L922.40,650.27 L922.49,648.26 L922.59,646.26 L922.70,645.34 L922.89,646.42 L923.10,648.20 L923.31,649.80 L923.50,650.74 L923.62,649.80 L923.72,647.73 L923.81,645.65 L923.90,644.71 L924.00,645.86 L924.10,648.37 L924.20,650.88 L924.30,652.02 L924.40,650.78 L924.50,648.05 L924.60,645.32 L924.70,644.08 L924.80,645.06 L924.89,647.21 L924.99,649.37 L925.10,650.34 L925.20,649.62 L925.30,648.02 L925.40,646.43 L925.50,645.70 L925.60,646.56 L925.70,648.45 L925.80,650.33 L925.90,651.19 L926.00,650.21 L926.10,648.07 L926.20,645.92 L926.30,644.94 L926.40,646.04 L926.50,648.44 L926.60,650.84 L926.70,651.93 L926.80,650.84 L926.90,648.43 L927.00,646.03 L927.10,644.93 L927.20,645.94 L927.30,648.16 L927.40,650.38 L927.50,651.39 L927.59,650.49 L927.68,648.50 L927.78,646.51 L927.90,645.60 L928.10,646.56 L928.30,648.20 L928.50,649.99 L928.67,651.08 L928.78,649.92 L928.87,647.39 L928.96,644.86 L929.04,643.71 L929.13,644.77 L929.23,647.12 L929.32,649.46 L929.41,650.53 L929.50,649.41 L929.59,646.94 L929.68,644.48 L929.79,643.36 L929.87,644.03 L929.97,645.50 L930.07,646.97 L930.16,647.63 L930.25,646.73 L930.35,644.74 L930.44,642.75 L930.53,641.84 L930.62,642.63 L930.72,644.36 L930.81,646.10 L930.90,646.88 L931.00,645.88 L931.09,643.67 L931.18,641.47 L931.27,640.46 L931.36,641.23 L931.46,642.93 L931.55,644.62 L931.64,645.39 L931.74,644.35 L931.83,642.07 L931.92,639.79 L932.01,638.76 L932.11,639.83 L932.20,642.17 L932.29,644.52 L932.39,645.58 L932.48,644.57 L932.57,642.32 L932.66,640.08 L932.76,639.06 L932.85,639.92 L932.94,641.83 L933.03,643.73 L933.13,644.60 L933.21,643.88 L933.29,642.30 L933.39,640.72 L933.50,640.00 L933.88,641.85 L934.00,640.99 L934.10,639.11 L934.18,637.23 L934.27,636.37 L934.37,637.22 L934.46,639.08 L934.56,640.95 L934.65,641.80 L934.75,640.77 L934.84,638.52 L934.94,636.27 L935.04,635.24 L935.13,636.04 L935.23,637.79 L935.33,639.55 L935.42,640.34 L935.52,639.31 L935.62,637.03 L935.71,634.75 L935.81,633.72 L935.90,634.82 L936.00,637.24 L936.09,639.67 L936.19,640.77 L936.28,639.69 L936.38,637.33 L936.47,634.96 L936.57,633.89 L936.67,634.60 L936.76,636.18 L936.86,637.75 L936.96,638.47 L937.06,637.52 L937.15,635.43 L937.25,633.34 L937.34,632.39 L937.44,633.20 L937.54,634.97 L937.63,636.74 L937.73,637.55 L937.83,636.47 L937.92,634.08 L938.02,631.70 L938.11,630.62 L938.21,631.80 L938.30,634.38 L938.40,636.97 L938.49,638.14 L938.59,636.86 L938.68,634.05 L938.78,631.24 L938.88,629.96 L938.97,630.95 L939.07,633.14 L939.17,635.34 L939.26,636.33 L939.36,635.21 L939.45,632.75 L939.55,630.29 L939.65,629.17 L939.74,630.15 L939.84,632.29 L939.94,634.43 L940.03,635.41 L940.12,634.40 L940.21,632.20 L940.30,629.99 L940.42,628.98 L940.60,629.96 L940.80,631.60 L940.99,633.24 L941.17,634.22 L941.27,633.56 L941.37,632.12 L941.46,630.68 L941.54,630.02 L941.64,630.96 L941.73,633.02 L941.82,635.07 L941.91,636.01 L942.01,635.12 L942.10,633.15 L942.19,631.19 L942.29,630.29 L942.38,631.37 L942.47,633.75 L942.57,636.13 L942.66,637.21 L942.75,636.10 L942.84,633.66 L942.94,631.22 L943.03,630.11 L943.12,631.19 L943.21,633.56 L943.31,635.93 L943.40,637.01 L943.49,635.92 L943.59,633.52 L943.68,631.11 L943.77,630.02 L943.86,631.12 L943.95,633.52 L944.04,635.93 L944.14,637.02 L944.23,636.31 L944.33,634.75 L944.42,633.19 L944.51,632.48 L944.61,633.26 L944.70,634.97 L944.79,636.68 L944.89,637.46 L944.98,636.63 L945.07,634.80 L945.17,632.97 L945.26,632.14 L945.34,633.04 L945.43,635.03 L945.52,637.01 L945.63,637.92 L945.81,636.86 L946.00,635.80 L946.19,637.24 L946.36,638.68 L946.47,637.72 L946.56,635.60 L946.64,633.49 L946.73,632.53 L946.82,633.58 L946.91,635.90 L947.00,638.21 L947.09,639.26 L947.18,638.40 L947.27,636.51 L947.36,634.61 L947.45,633.75 L947.55,634.62 L947.64,636.55 L947.73,638.47 L947.82,639.35 L947.91,638.47 L948.00,636.54 L948.09,634.61 L948.18,633.73 L948.28,634.92 L948.37,637.53 L948.45,640.14 L948.55,641.33 L948.63,640.32 L948.73,638.10 L948.82,635.88 L948.91,634.87 L949.00,635.89 L949.09,638.13 L949.18,640.37 L949.27,641.39 L949.36,640.23 L949.45,637.69 L949.54,635.14 L949.64,633.98 L949.75,634.71 L949.87,636.31 L950.00,637.90 L950.13,639.39 L950.26,640.86 L950.39,641.52 L950.49,640.53 L950.59,638.35 L950.68,636.17 L950.78,635.18 L950.87,636.23 L950.97,638.53 L951.06,640.83 L951.16,641.88 L951.26,641.06 L951.35,639.26 L951.45,637.45 L951.55,636.63 L951.65,637.55 L951.75,639.57 L951.84,641.59 L951.94,642.51 L952.04,641.38 L952.14,638.90 L952.23,636.42 L952.33,635.30 L952.42,636.56 L952.50,639.33 L952.60,642.11 L952.71,643.37 L952.76,642.52 L952.81,640.93 L953.10,640.00 L954.13,641.15 L955.70,643.97 L957.47,647.08 L959.10,649.10 L960.14,649.42 L961.16,649.43 L962.10,649.80 L963.17,652.02 L964.01,655.49 L964.84,658.75 L965.90,660.40 L966.79,660.27 L967.77,659.56 L968.77,658.52 L969.70,657.40 L970.84,655.27 L971.85,652.52 L972.91,649.94 L974.20,648.30 L975.27,647.90 L976.44,647.86 L977.64,648.03 L978.80,648.30 L979.97,648.88 L981.12,649.76 L982.24,650.48 L983.30,650.60 L984.78,648.65 L986.13,645.04 L987.38,641.56 L988.60,640.00 L989.53,641.01 L990.37,643.33 L991.27,645.88 L992.40,647.60 L993.44,648.16 L994.60,648.47 L995.79,648.51 L996.90,648.30 L998.10,647.57 L999.23,646.39 L1000.32,645.03 L1001.40,643.80 L1002.39,642.63 L1003.38,641.35 L1004.32,640.34 L1005.20,640.00 L1006.02,640.66 L1006.76,642.08 L1007.46,643.79 L1008.20,645.30 L1008.95,646.69 L1009.71,648.19 L1010.47,649.37 L1011.20,649.80 L1012.19,648.58 L1013.14,645.80 L1014.06,642.39 L1015.00,639.30" stroke="#0C5DA5"/><path d="M138.50,653.45 L139.50,653.65 L140.50,653.84 L141.50,654.03 L142.50,654.23 L143.50,654.43 L144.50,654.62 L145.50,654.83 L146.50,655.03 L147.50,655.24 L148.50,655.44 L149.50,655.66 L150.50,655.87 L151.50,656.09 L152.50,656.32 L153.50,656.55 L154.50,656.78 L155.50,657.02 L156.50,657.26 L157.50,657.51 L158.50,657.77 L159.50,658.03 L160.50,658.30 L161.50,658.57 L162.50,658.85 L163.50,659.14 L164.50,659.44 L165.50,659.75 L166.50,660.06 L167.50,660.39 L168.50,660.72 L169.50,661.06 L170.50,661.41 L171.50,661.77 L172.50,662.14 L173.50,662.51 L174.50,662.90 L175.50,663.29 L176.50,663.68 L177.50,664.08 L178.50,664.48 L179.50,664.89 L180.50,665.29 L181.50,665.70 L182.50,666.11 L183.50,666.52 L184.50,666.93 L185.50,667.34 L186.50,667.75 L187.50,668.15 L188.50,668.55 L189.50,668.94 L190.50,669.33 L191.50,669.71 L192.50,670.09 L193.50,670.46 L194.50,670.82 L195.50,671.17 L196.50,671.51 L197.50,671.85 L198.50,672.17 L199.50,672.47 L200.50,672.77 L201.50,673.05 L202.50,673.32 L203.50,673.57 L204.50,673.82 L205.50,674.04 L206.50,674.25 L207.50,674.45 L208.50,674.63 L209.50,674.80 L210.50,674.95 L211.50,675.08 L212.50,675.20 L213.50,675.30 L214.50,675.39 L215.50,675.45 L216.50,675.50 L217.50,675.54 L218.50,675.55 L219.50,675.55 L220.50,675.52 L221.50,675.48 L222.50,675.42 L223.50,675.34 L224.50,675.24 L225.50,675.12 L226.50,674.98 L227.50,674.83 L228.50,674.64 L229.50,674.44 L230.50,674.23 L231.50,674.01 L232.50,673.78 L233.50,673.55 L234.50,673.33 L235.50,673.13 L236.50,672.93 L237.50,672.77 L238.50,672.63 L239.50,672.52 L240.50,672.45 L241.50,672.42 L242.50,672.45 L243.50,672.52 L244.50,672.65 L245.50,672.82 L246.50,673.03 L247.50,673.27 L248.50,673.55 L249.50,673.85 L250.50,674.16 L251.50,674.49 L252.50,674.83 L253.50,675.16 L254.50,675.49 L255.50,675.80 L256.50,676.09 L257.50,676.36 L258.50,676.59 L259.50,676.78 L260.50,676.93 L261.50,677.02 L262.50,677.06 L263.50,677.02 L264.50,676.92 L265.50,676.74 L266.50,676.50 L267.50,676.20 L268.50,675.86 L269.50,675.47 L270.50,675.06 L271.50,674.64 L272.50,674.20 L273.50,673.76 L274.50,673.31 L275.50,672.86 L276.50,672.41 L277.50,671.95 L278.50,671.49 L279.50,671.03 L280.50,670.57 L281.50,670.11 L282.50,669.65 L283.50,669.19 L284.50,668.73 L285.50,668.27 L286.50,667.82 L287.50,667.37 L288.50,666.93 L289.50,666.49 L290.50,666.05 L291.50,665.62 L292.50,665.20 L293.50,664.79 L294.50,664.39 L295.50,663.99 L296.50,663.60 L297.50,663.23 L298.50,662.86 L299.50,662.51 L300.50,662.17 L301.50,661.84 L302.50,661.52 L303.50,661.22 L304.50,660.93 L305.50,660.65 L306.50,660.38 L307.50,660.13 L308.50,659.89 L309.50,659.66 L310.50,659.44 L311.50,659.24 L312.50,659.05 L313.50,658.87 L314.50,658.71 L315.50,658.56 L316.50,658.42 L317.50,658.29 L318.50,658.18 L319.50,658.08 L320.50,657.99 L321.50,657.92 L322.50,657.85 L323.50,657.81 L324.50,657.77 L325.50,657.75 L326.50,657.74 L327.50,657.74 L328.50,657.76 L329.50,657.78 L330.50,657.83 L331.50,657.88 L332.50,657.95 L333.50,658.03 L334.50,658.13 L335.50,658.24 L336.50,658.37 L337.50,658.51 L338.50,658.67 L339.50,658.84 L340.50,659.04 L341.50,659.24 L342.50,659.47 L343.50,659.71 L344.50,659.97 L345.50,660.25 L346.50,660.54 L347.50,660.86 L348.50,661.19 L349.50,661.55 L350.50,661.92 L351.50,662.30 L352.50,662.69 L353.50,663.08 L354.50,663.47 L355.50,663.87 L356.50,664.26 L357.50,664.64 L358.50,665.00 L359.50,665.36 L360.50,665.69 L361.50,666.00 L362.50,666.29 L363.50,666.54 L364.50,666.77 L365.50,666.95 L366.50,667.10 L367.50,667.21 L368.50,667.27 L369.50,667.30 L370.50,667.30 L371.50,667.29 L372.50,667.27 L373.50,667.25 L374.50,667.23 L375.50,667.24 L376.50,667.27 L377.50,667.33 L378.50,667.42 L379.50,667.54 L380.50,667.67 L381.50,667.82 L382.50,667.97 L383.50,668.11 L384.50,668.25 L385.50,668.37 L386.50,668.47 L387.50,668.54 L388.50,668.58 L389.50,668.57 L390.50,668.52 L391.50,668.42 L392.50,668.27 L393.50,668.08 L394.50,667.85 L395.50,667.59 L396.50,667.30 L397.50,666.98 L398.50,666.65 L399.50,666.29 L400.50,665.92 L401.50,665.54 L402.50,665.16 L403.50,664.78 L404.50,664.42 L405.50,664.06 L406.50,663.73 L407.50,663.42 L408.50,663.14 L409.50,662.90 L410.50,662.70 L411.50,662.54 L412.50,662.41 L413.50,662.33 L414.50,662.27 L415.50,662.26 L416.50,662.28 L417.50,662.33 L418.50,662.42 L419.50,662.54 L420.50,662.69 L421.50,662.88 L422.50,663.10 L423.50,663.35 L424.50,663.63 L425.50,663.95 L426.50,664.29 L427.50,664.66 L428.50,665.06 L429.50,665.48 L430.50,665.90 L431.50,666.31 L432.50,666.71 L433.50,667.08 L434.50,667.40 L435.50,667.67 L436.50,667.88 L437.50,668.04 L438.50,668.14 L439.50,668.20 L440.50,668.23 L441.50,668.22 L442.50,668.19 L443.50,668.13 L444.50,668.07 L445.50,668.00 L446.50,667.92 L447.50,667.85 L448.50,667.79 L449.50,667.75 L450.50,667.71 L451.50,667.68 L452.50,667.65 L453.50,667.61 L454.50,667.56 L455.50,667.49 L456.50,667.41 L457.50,667.29 L458.50,667.14 L459.50,666.96 L460.50,666.76 L461.50,666.54 L462.50,666.32 L463.50,666.10 L464.50,665.89 L465.50,665.69 L466.50,665.52 L467.50,665.37 L468.50,665.27 L469.50,665.22 L470.50,665.22 L471.50,665.29 L472.50,665.42 L473.50,665.60 L474.50,665.84 L475.50,666.11 L476.50,666.41 L477.50,666.73 L478.50,667.06 L479.50,667.40 L480.50,667.73 L481.50,668.05 L482.50,668.34 L483.50,668.61 L484.50,668.85 L485.50,669.07 L486.50,669.29 L487.50,669.49 L488.50,669.70 L489.50,669.91 L490.50,670.13 L491.50,670.38 L492.50,670.64 L493.50,670.94 L494.50,671.27 L495.50,671.64 L496.50,672.04 L497.50,672.46 L498.50,672.90 L499.50,673.36 L500.50,673.83 L501.50,674.31 L502.50,674.79 L503.50,675.26 L504.50,675.74 L505.50,676.20 L506.50,676.64 L507.50,677.07 L508.50,677.47 L509.50,677.84 L510.50,678.18 L511.50,678.48 L512.50,678.74 L513.50,678.95 L514.50,679.11 L515.50,679.21 L516.50,679.25 L517.50,679.23 L518.50,679.14 L519.50,678.98 L520.50,678.76 L521.50,678.48 L522.50,678.14 L523.50,677.76 L524.50,677.32 L525.50,676.84 L526.50,676.31 L527.50,675.75 L528.50,675.15 L529.50,674.53 L530.50,673.87 L531.50,673.19 L532.50,672.49 L533.50,671.78 L534.50,671.05 L535.50,670.32 L536.50,669.57 L537.50,668.83 L538.50,668.09 L539.50,667.35 L540.50,666.62 L541.50,665.90 L542.50,665.20 L543.50,664.52 L544.50,663.86 L545.50,663.23 L546.50,662.63 L547.50,662.06 L548.50,661.53 L549.50,661.04 L550.50,660.58 L551.50,660.16 L552.50,659.77 L553.50,659.41 L554.50,659.09 L555.50,658.79 L556.50,658.52 L557.50,658.27 L558.50,658.05 L559.50,657.85 L560.50,657.67 L561.50,657.51 L562.50,657.36 L563.50,657.24 L564.50,657.13 L565.50,657.03 L566.50,656.95 L567.50,656.87 L568.50,656.80 L569.50,656.75 L570.50,656.70 L571.50,656.65 L572.50,656.61 L573.50,656.57 L574.50,656.54 L575.50,656.50 L576.50,656.47 L577.50,656.43 L578.50,656.39 L579.50,656.35 L580.50,656.30 L581.50,656.25 L582.50,656.19 L583.50,656.12 L584.50,656.04 L585.50,655.95 L586.50,655.85 L587.50,655.74 L588.50,655.61 L589.50,655.47 L590.50,655.31 L591.50,655.13 L592.50,654.93 L593.50,654.72 L594.50,654.48 L595.50,654.22 L596.50,653.94 L597.50,653.64 L598.50,653.32 L599.50,652.98 L600.50,652.64 L601.50,652.28 L602.50,651.91 L603.50,651.53 L604.50,651.15 L605.50,650.77 L606.50,650.39 L607.50,650.00 L608.50,649.62 L609.50,649.25 L610.50,648.89 L611.50,648.53 L612.50,648.19 L613.50,647.86 L614.50,647.54 L615.50,647.25 L616.50,646.97 L617.50,646.72 L618.50,646.49 L619.50,646.29 L620.50,646.12 L621.50,645.98 L622.50,645.87 L623.50,645.80 L624.50,645.76 L625.50,645.75 L626.50,645.74 L627.50,645.73 L628.50,645.70 L629.50,645.65 L630.50,645.56 L631.50,645.42 L632.50,645.21 L633.50,644.92 L634.50,644.57 L635.50,644.15 L636.50,643.68 L637.50,643.18 L638.50,642.65 L639.50,642.10 L640.50,641.55 L641.50,641.01 L642.50,640.49 L643.50,640.00 L644.50,639.55 L645.50,639.15 L646.50,638.80 L647.50,638.52 L648.50,638.31 L649.50,638.19 L650.50,638.15 L651.50,638.20 L652.50,638.33 L653.50,638.52 L654.50,638.77 L655.50,639.07 L656.50,639.41 L657.50,639.78 L658.50,640.18 L659.50,640.58 L660.50,640.98 L661.50,641.38 L662.50,641.76 L663.50,642.12 L664.50,642.43 L665.50,642.71 L666.50,642.93 L667.50,643.08 L668.50,643.17 L669.50,643.17 L670.50,643.10 L671.50,642.97 L672.50,642.79 L673.50,642.56 L674.50,642.31 L675.50,642.04 L676.50,641.76 L677.50,641.48 L678.50,641.21 L679.50,640.95 L680.50,640.70 L681.50,640.48 L682.50,640.28 L683.50,640.12 L684.50,639.99 L685.50,639.90 L686.50,639.86 L687.50,639.88 L688.50,639.94 L689.50,640.07 L690.50,640.27 L691.50,640.53 L692.50,640.87 L693.50,641.27 L694.50,641.71 L695.50,642.19 L696.50,642.69 L697.50,643.20 L698.50,643.71 L699.50,644.21 L700.50,644.67 L701.50,645.11 L702.50,645.51 L703.50,645.88 L704.50,646.23 L705.50,646.54 L706.50,646.84 L707.50,647.11 L708.50,647.36 L709.50,647.59 L710.50,647.80 L711.50,648.00 L712.50,648.18 L713.50,648.35 L714.50,648.51 L715.50,648.66 L716.50,648.80 L717.50,648.93 L718.50,649.06 L719.50,649.19 L720.50,649.32 L721.50,649.45 L722.50,649.58 L723.50,649.71 L724.50,649.86 L725.50,650.01 L726.50,650.18 L727.50,650.36 L728.50,650.57 L729.50,650.79 L730.50,651.05 L731.50,651.33 L732.50,651.65 L733.50,652.00 L734.50,652.40 L735.50,652.83 L736.50,653.30 L737.50,653.80 L738.50,654.33 L739.50,654.88 L740.50,655.45 L741.50,656.04 L742.50,656.64 L743.50,657.25 L744.50,657.86 L745.50,658.48 L746.50,659.09 L747.50,659.70 L748.50,660.30 L749.50,660.88 L750.50,661.44 L751.50,661.98 L752.50,662.50 L753.50,662.98 L754.50,663.44 L755.50,663.85 L756.50,664.23 L757.50,664.58 L758.50,664.90 L759.50,665.19 L760.50,665.46 L761.50,665.71 L762.50,665.95 L763.50,666.18 L764.50,666.40 L765.50,666.62 L766.50,666.84 L767.50,667.05 L768.50,667.27 L769.50,667.49 L770.50,667.70 L771.50,667.91 L772.50,668.10 L773.50,668.29 L774.50,668.47 L775.50,668.64 L776.50,668.79 L777.50,668.92 L778.50,669.04 L779.50,669.13 L780.50,669.20 L781.50,669.25 L782.50,669.28 L783.50,669.27 L784.50,669.24 L785.50,669.18 L786.50,669.08 L787.50,668.95 L788.50,668.79 L789.50,668.58 L790.50,668.34 L791.50,668.05 L792.50,667.73 L793.50,667.37 L794.50,666.98 L795.50,666.57 L796.50,666.14 L797.50,665.69 L798.50,665.22 L799.50,664.75 L800.50,664.28 L801.50,663.81 L802.50,663.34 L803.50,662.88 L804.50,662.44 L805.50,662.02 L806.50,661.62 L807.50,661.24 L808.50,660.90 L809.50,660.60 L810.50,660.33 L811.50,660.12 L812.50,659.96 L813.50,659.87 L814.50,659.85 L815.50,659.91 L816.50,660.06 L817.50,660.28 L818.50,660.57 L819.50,660.91 L820.50,661.30 L821.50,661.72 L822.50,662.17 L823.50,662.63 L824.50,663.09 L825.50,663.54 L826.50,663.98 L827.50,664.39 L828.50,664.77 L829.50,665.10 L830.50,665.37 L831.50,665.57 L832.50,665.69 L833.50,665.74 L834.50,665.71 L835.50,665.61 L836.50,665.45 L837.50,665.24 L838.50,664.99 L839.50,664.71 L840.50,664.39 L841.50,664.06 L842.50,663.72 L843.50,663.37 L844.50,663.00 L845.50,662.63 L846.50,662.25 L847.50,661.87 L848.50,661.47 L849.50,661.07 L850.50,660.66 L851.50,660.25 L852.50,659.83 L853.50,659.41 L854.50,658.98 L855.50,658.55 L856.50,658.12 L857.50,657.68 L858.50,657.24 L859.50,656.80 L860.50,656.36 L861.50,655.92 L862.50,655.48 L863.50,655.03 L864.50,654.59 L865.50,654.16 L866.50,653.72 L867.50,653.28 L868.50,652.85 L869.50,652.42 L870.50,652.00 L871.50,651.58 L872.50,651.17 L873.50,650.76 L874.50,650.36 L875.50,649.96 L876.50,649.57 L877.50,649.20 L878.50,648.83 L879.50,648.47 L880.50,648.13 L881.50,647.79 L882.50,647.47 L883.50,647.17 L884.50,646.87 L885.50,646.60 L886.50,646.34 L887.50,646.09 L888.50,645.87 L889.50,645.66 L890.50,645.47 L891.50,645.30 L892.50,645.15 L893.50,645.02 L894.50,644.91 L895.50,644.82 L896.50,644.74 L897.50,644.68 L898.50,644.63 L899.50,644.59 L900.50,644.56 L901.50,644.54 L902.50,644.53 L903.50,644.52 L904.50,644.52 L905.50,644.52 L906.50,644.52 L907.50,644.52 L908.50,644.52 L909.50,644.52 L910.50,644.51 L911.50,644.50 L912.50,644.48 L913.50,644.45 L914.50,644.41 L915.50,644.36 L916.50,644.29 L917.50,644.21 L918.50,644.12 L919.50,644.00 L920.50,643.87 L921.50,643.72 L922.50,643.55 L923.50,643.35 L924.50,643.13 L925.50,642.89 L926.50,642.63 L927.50,642.35 L928.50,642.06 L929.50,641.76 L930.50,641.44 L931.50,641.12 L932.50,640.78 L933.50,640.45 L934.50,640.11 L935.50,639.77 L936.50,639.43 L937.50,639.10 L938.50,638.76 L939.50,638.43 L940.50,638.10 L941.50,637.78 L942.50,637.46 L943.50,637.16 L944.50,636.86 L945.50,636.57 L946.50,636.29 L947.50,636.03 L948.50,635.78 L949.50,635.54 L950.50,635.32 L951.50,635.11 L952.50,634.93 L953.50,634.76 L954.50,634.61 L955.50,634.49 L956.50,634.38 L957.50,634.31 L958.50,634.25 L959.50,634.22 L960.50,634.21 L961.50,634.22 L962.50,634.26 L963.50,634.31 L964.50,634.37 L965.50,634.45 L966.50,634.55 L967.50,634.66 L968.50,634.78 L969.50,634.91 L970.50,635.04 L971.50,635.19 L972.50,635.34 L973.50,635.49 L974.50,635.65 L975.50,635.80 L976.50,635.96 L977.50,636.12 L978.50,636.27 L979.50,636.42 L980.50,636.56 L981.50,636.70 L982.50,636.83 L983.50,636.95 L984.50,637.05 L985.50,637.15 L986.50,637.23 L987.50,637.29 L988.50,637.34 L989.50,637.37 L990.50,637.38 L991.50,637.37 L992.50,637.34 L993.50,637.30 L994.50,637.24 L995.50,637.18 L996.50,637.11 L997.50,637.04 L998.50,636.97 L999.50,636.92 L1000.50,636.87 L1001.50,636.83 L1002.50,636.82 L1003.50,636.82 L1004.50,636.85 L1005.50,636.91 L1006.50,637.01 L1007.50,637.13 L1008.50,637.30 L1009.50,637.51 L1010.50,637.77 L1011.50,638.08 L1012.50,638.45 L1013.50,638.87 L1014.50,639.36 L1015.00,639.62" stroke="#000"/></g><g stroke="#1a1a1a" stroke-width="1.4"><line x1="99.7" y1="517.22" x2="104.3" y2="517.22"/><line x1="99.7" y1="497.12" x2="104.3" y2="497.12"/><line x1="99.7" y1="479.70" x2="104.3" y2="479.70"/><line x1="99.7" y1="464.34" x2="104.3" y2="464.34"/><line x1="99.7" y1="450.60" x2="108.0" y2="450.60"/><line x1="99.7" y1="360.20" x2="104.3" y2="360.20"/><line x1="99.7" y1="307.32" x2="104.3" y2="307.32"/><line x1="99.7" y1="269.80" x2="104.3" y2="269.80"/><line x1="99.7" y1="240.70" x2="104.3" y2="240.70"/><line x1="99.7" y1="216.92" x2="104.3" y2="216.92"/><line x1="99.7" y1="196.82" x2="104.3" y2="196.82"/><line x1="99.7" y1="179.40" x2="104.3" y2="179.40"/><line x1="99.7" y1="164.04" x2="104.3" y2="164.04"/><line x1="99.7" y1="150.30" x2="108.0" y2="150.30"/><line x1="99.7" y1="59.90" x2="104.3" y2="59.90"/><line x1="99.7" y1="7.02" x2="104.3" y2="7.02"/><line x1="172.75" y1="540.6" x2="172.75" y2="532.3000000000001"/><line x1="341.15" y1="540.6" x2="341.15" y2="532.3000000000001"/><line x1="509.55" y1="540.6" x2="509.55" y2="532.3000000000001"/><line x1="677.95" y1="540.6" x2="677.95" y2="532.3000000000001"/><line x1="846.35" y1="540.6" x2="846.35" y2="532.3000000000001"/><line x1="1014.75" y1="540.6" x2="1014.75" y2="532.3000000000001"/><line x1="99.7" y1="714.60" x2="108.0" y2="714.60"/><line x1="99.7" y1="644.80" x2="108.0" y2="644.80"/><line x1="99.7" y1="575.00" x2="108.0" y2="575.00"/><line x1="172.75" y1="721.2" x2="172.75" y2="712.9000000000001"/><line x1="341.15" y1="721.2" x2="341.15" y2="712.9000000000001"/><line x1="509.55" y1="721.2" x2="509.55" y2="712.9000000000001"/><line x1="677.95" y1="721.2" x2="677.95" y2="712.9000000000001"/><line x1="846.35" y1="721.2" x2="846.35" y2="712.9000000000001"/><line x1="1014.75" y1="721.2" x2="1014.75" y2="712.9000000000001"/></g><g fill="none" stroke="#1a1a1a" stroke-width="1.4"><rect x="99.7" y="0.4" width="958.5999999999999" height="540.2"/><rect x="99.7" y="541.3" width="958.5999999999999" height="179.9000000000001"/></g><g stroke-width="2.3"><line x1="867.8" y1="33.2" x2="895.1" y2="33.2" stroke="#0C5DA5"/><line x1="867.8" y1="64.1" x2="895.1" y2="64.1" stroke="#000"/><line x1="867.8" y1="101.7" x2="895.1" y2="101.7" stroke="#f00"/><line x1="132.2" y1="575.5" x2="159.8" y2="575.5" stroke="#000" stroke-width="2.6"/><line x1="132.2" y1="615.9" x2="159.8" y2="615.9" stroke="#0C5DA5" stroke-width="2.1"/></g><g font-family="Liberation Sans, sans-serif" fill="#000" stroke="#fff" stroke-width="0.3" paint-order="fill"><text x="910.77" y="40.00" font-size="23.2" textLength="48.50" lengthAdjust="spacingAndGlyphs">cWB</text><text x="910.41" y="70.70" font-size="23.2" textLength="89.00" lengthAdjust="spacingAndGlyphs">Injected</text><text x="910.76" y="108.20" font-size="23.2" textLength="52.60" lengthAdjust="spacingAndGlyphs">Bilby</text><text x="176.71" y="620.40" font-size="23.2" textLength="110.85" lengthAdjust="spacingAndGlyphs">cWB/Bilby</text><text x="176.34" y="582.50" font-size="23.2" font-style="italic" textLength="11.44" lengthAdjust="spacingAndGlyphs">F</text><text x="188.72" y="582.50" font-size="23.2" textLength="7.67" lengthAdjust="spacingAndGlyphs">(</text><text x="196.29" y="582.50" font-size="23.2" font-style="italic" textLength="5.64" lengthAdjust="spacingAndGlyphs">f</text><text x="204.30" y="582.50" font-size="23.2" textLength="6.79" lengthAdjust="spacingAndGlyphs">)</text><text x="211.30" y="585.00" font-size="23.2" textLength="7.98" lengthAdjust="spacingAndGlyphs">/</text><text x="220.97" y="582.50" font-size="23.2" textLength="11.72" lengthAdjust="spacingAndGlyphs">&#8730;</text><text x="232.87" y="582.50" font-size="23.2" font-style="italic" textLength="12.85" lengthAdjust="spacingAndGlyphs">μ</text><line x1="231.6" y1="565.95" x2="245.6" y2="565.95" stroke="#000" stroke-width="1.5"/><text x="158.05" y="752.80" font-size="23.3" textLength="29.27" lengthAdjust="spacingAndGlyphs">50</text><text x="318.68" y="752.80" font-size="23.3" textLength="42.74" lengthAdjust="spacingAndGlyphs">100</text><text x="487.76" y="752.80" font-size="23.3" textLength="41.01" lengthAdjust="spacingAndGlyphs">150</text><text x="654.55" y="752.80" font-size="23.3" textLength="44.92" lengthAdjust="spacingAndGlyphs">200</text><text x="823.92" y="752.80" font-size="23.3" textLength="42.69" lengthAdjust="spacingAndGlyphs">250</text><text x="991.62" y="752.80" font-size="23.3" textLength="44.84" lengthAdjust="spacingAndGlyphs">300</text><text x="73.98" y="582.70" font-size="23.3" textLength="14.12" lengthAdjust="spacingAndGlyphs">2</text><text x="75.13" y="651.80" font-size="23.3" textLength="10.86" lengthAdjust="spacingAndGlyphs">1</text><text x="72.22" y="720.80" font-size="23.3" textLength="14.99" lengthAdjust="spacingAndGlyphs">0</text><text x="37.56" y="164.00" font-size="23.6" textLength="25.82" lengthAdjust="spacingAndGlyphs">10</text><text x="62.96" y="151.00" font-size="15.3" textLength="25.00" lengthAdjust="spacingAndGlyphs">&#8722;24</text><text x="37.51" y="464.10" font-size="23.6" textLength="25.88" lengthAdjust="spacingAndGlyphs">10</text><text x="64.32" y="451.80" font-size="15.3" textLength="23.04" lengthAdjust="spacingAndGlyphs">&#8722;25</text><text x="544.09" y="796.80" font-size="27.1" font-style="italic" textLength="8.00" lengthAdjust="spacingAndGlyphs">f</text><text x="559.93" y="796.80" font-size="27.1" textLength="8.17" lengthAdjust="spacingAndGlyphs">(</text><text x="569.18" y="796.80" font-size="27.1" textLength="32.40" lengthAdjust="spacingAndGlyphs">Hz</text><text x="601.24" y="796.80" font-size="27.1" textLength="8.71" lengthAdjust="spacingAndGlyphs">)</text><text transform="translate(20.80,404.79) rotate(-90)" font-size="27.5" textLength="268.57" lengthAdjust="spacingAndGlyphs">Strain amplitude (Hz)</text><text transform="translate(53.90,682.82) rotate(-90)" font-size="27.5" textLength="104.57" lengthAdjust="spacingAndGlyphs">Fraction</text></g></svg>
</body></html>
